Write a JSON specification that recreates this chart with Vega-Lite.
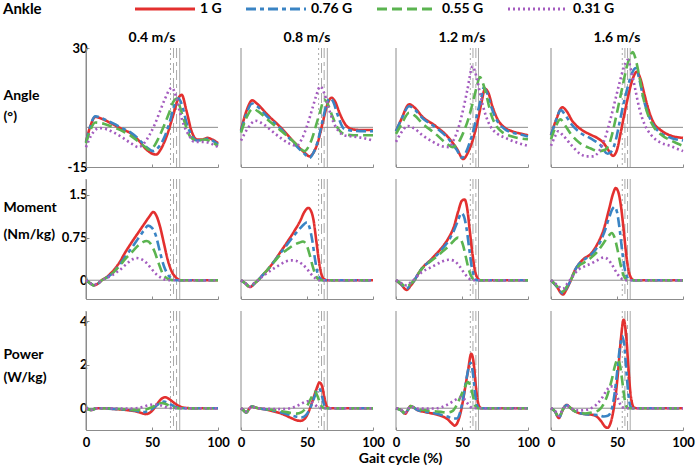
{
"$schema":"https://vega.github.io/schema/vega-lite/v6.json",
"padding":{"left":3,"top":2,"right":5,"bottom":0},
"datasets":{"d":[
{"m":"T","v":"0.4 m/s","g":"1 G","x":71},{"m":"T","v":"0.4 m/s","g":"0.76 G","x":68.6},{"m":"T","v":"0.4 m/s","g":"0.55 G","x":66.3},{"m":"T","v":"0.4 m/s","g":"0.31 G","x":64},
{"m":"T","v":"0.8 m/s","g":"1 G","x":65.4},{"m":"T","v":"0.8 m/s","g":"0.76 G","x":63},{"m":"T","v":"0.8 m/s","g":"0.55 G","x":61},{"m":"T","v":"0.8 m/s","g":"0.31 G","x":58.8},
{"m":"T","v":"1.2 m/s","g":"1 G","x":62.5},{"m":"T","v":"1.2 m/s","g":"0.76 G","x":60.5},{"m":"T","v":"1.2 m/s","g":"0.55 G","x":58.3},{"m":"T","v":"1.2 m/s","g":"0.31 G","x":56.3},
{"m":"T","v":"1.6 m/s","g":"1 G","x":60},{"m":"T","v":"1.6 m/s","g":"0.76 G","x":58},{"m":"T","v":"1.6 m/s","g":"0.55 G","x":56},{"m":"T","v":"1.6 m/s","g":"0.31 G","x":54},

{"m":"A","v":"0.4 m/s","g":"1 G","x":0,"y":-5.5},{"m":"A","v":"0.4 m/s","g":"1 G","x":3,"y":0},{"m":"A","v":"0.4 m/s","g":"1 G","x":7,"y":3.9},{"m":"A","v":"0.4 m/s","g":"1 G","x":14,"y":2.8},{"m":"A","v":"0.4 m/s","g":"1 G","x":21,"y":1},{"m":"A","v":"0.4 m/s","g":"1 G","x":28,"y":-0.8},{"m":"A","v":"0.4 m/s","g":"1 G","x":34,"y":-2.3},{"m":"A","v":"0.4 m/s","g":"1 G","x":40,"y":-5},{"m":"A","v":"0.4 m/s","g":"1 G","x":46,"y":-8.5},{"m":"A","v":"0.4 m/s","g":"1 G","x":53,"y":-10.3},{"m":"A","v":"0.4 m/s","g":"1 G","x":57,"y":-8},{"m":"A","v":"0.4 m/s","g":"1 G","x":61,"y":-3.5},{"m":"A","v":"0.4 m/s","g":"1 G","x":66,"y":4.5},{"m":"A","v":"0.4 m/s","g":"1 G","x":70,"y":11},{"m":"A","v":"0.4 m/s","g":"1 G","x":72.5,"y":12.3},{"m":"A","v":"0.4 m/s","g":"1 G","x":76,"y":6.5},{"m":"A","v":"0.4 m/s","g":"1 G","x":80,"y":-1.5},{"m":"A","v":"0.4 m/s","g":"1 G","x":84,"y":-4.6},{"m":"A","v":"0.4 m/s","g":"1 G","x":88,"y":-4.6},{"m":"A","v":"0.4 m/s","g":"1 G","x":92,"y":-4},{"m":"A","v":"0.4 m/s","g":"1 G","x":96,"y":-4.7},{"m":"A","v":"0.4 m/s","g":"1 G","x":100,"y":-6},
{"m":"A","v":"0.4 m/s","g":"0.76 G","x":0,"y":-5.8},{"m":"A","v":"0.4 m/s","g":"0.76 G","x":3,"y":0},{"m":"A","v":"0.4 m/s","g":"0.76 G","x":7,"y":4.2},{"m":"A","v":"0.4 m/s","g":"0.76 G","x":14,"y":3},{"m":"A","v":"0.4 m/s","g":"0.76 G","x":21,"y":1.4},{"m":"A","v":"0.4 m/s","g":"0.76 G","x":28,"y":-0.5},{"m":"A","v":"0.4 m/s","g":"0.76 G","x":34,"y":-2},{"m":"A","v":"0.4 m/s","g":"0.76 G","x":40,"y":-4.5},{"m":"A","v":"0.4 m/s","g":"0.76 G","x":46,"y":-7.5},{"m":"A","v":"0.4 m/s","g":"0.76 G","x":51,"y":-9},{"m":"A","v":"0.4 m/s","g":"0.76 G","x":55,"y":-7.5},{"m":"A","v":"0.4 m/s","g":"0.76 G","x":60,"y":-3},{"m":"A","v":"0.4 m/s","g":"0.76 G","x":64,"y":3},{"m":"A","v":"0.4 m/s","g":"0.76 G","x":67,"y":8.5},{"m":"A","v":"0.4 m/s","g":"0.76 G","x":70,"y":11},{"m":"A","v":"0.4 m/s","g":"0.76 G","x":73,"y":8},{"m":"A","v":"0.4 m/s","g":"0.76 G","x":76,"y":2},{"m":"A","v":"0.4 m/s","g":"0.76 G","x":80,"y":-3},{"m":"A","v":"0.4 m/s","g":"0.76 G","x":84,"y":-5},{"m":"A","v":"0.4 m/s","g":"0.76 G","x":88,"y":-4.8},{"m":"A","v":"0.4 m/s","g":"0.76 G","x":92,"y":-4.3},{"m":"A","v":"0.4 m/s","g":"0.76 G","x":96,"y":-5},{"m":"A","v":"0.4 m/s","g":"0.76 G","x":100,"y":-6.5},
{"m":"A","v":"0.4 m/s","g":"0.55 G","x":0,"y":-6},{"m":"A","v":"0.4 m/s","g":"0.55 G","x":3,"y":-1.5},{"m":"A","v":"0.4 m/s","g":"0.55 G","x":7,"y":1.8},{"m":"A","v":"0.4 m/s","g":"0.55 G","x":14,"y":1.3},{"m":"A","v":"0.4 m/s","g":"0.55 G","x":21,"y":0},{"m":"A","v":"0.4 m/s","g":"0.55 G","x":28,"y":-1.5},{"m":"A","v":"0.4 m/s","g":"0.55 G","x":34,"y":-3.2},{"m":"A","v":"0.4 m/s","g":"0.55 G","x":40,"y":-5.5},{"m":"A","v":"0.4 m/s","g":"0.55 G","x":45,"y":-7.5},{"m":"A","v":"0.4 m/s","g":"0.55 G","x":48,"y":-8.5},{"m":"A","v":"0.4 m/s","g":"0.55 G","x":51,"y":-7.5},{"m":"A","v":"0.4 m/s","g":"0.55 G","x":55,"y":-4},{"m":"A","v":"0.4 m/s","g":"0.55 G","x":59,"y":0.5},{"m":"A","v":"0.4 m/s","g":"0.55 G","x":63,"y":5.5},{"m":"A","v":"0.4 m/s","g":"0.55 G","x":66,"y":9.5},{"m":"A","v":"0.4 m/s","g":"0.55 G","x":68.5,"y":10.8},{"m":"A","v":"0.4 m/s","g":"0.55 G","x":71,"y":8},{"m":"A","v":"0.4 m/s","g":"0.55 G","x":74,"y":3},{"m":"A","v":"0.4 m/s","g":"0.55 G","x":79,"y":-3.5},{"m":"A","v":"0.4 m/s","g":"0.55 G","x":84,"y":-5},{"m":"A","v":"0.4 m/s","g":"0.55 G","x":90,"y":-4.6},{"m":"A","v":"0.4 m/s","g":"0.55 G","x":95,"y":-5.5},{"m":"A","v":"0.4 m/s","g":"0.55 G","x":100,"y":-7},
{"m":"A","v":"0.4 m/s","g":"0.31 G","x":0,"y":-7.5},{"m":"A","v":"0.4 m/s","g":"0.31 G","x":4,"y":-3},{"m":"A","v":"0.4 m/s","g":"0.31 G","x":10,"y":-0.3},{"m":"A","v":"0.4 m/s","g":"0.31 G","x":16,"y":-0.8},{"m":"A","v":"0.4 m/s","g":"0.31 G","x":22,"y":-2.2},{"m":"A","v":"0.4 m/s","g":"0.31 G","x":28,"y":-4},{"m":"A","v":"0.4 m/s","g":"0.31 G","x":34,"y":-6},{"m":"A","v":"0.4 m/s","g":"0.31 G","x":40,"y":-7.5},{"m":"A","v":"0.4 m/s","g":"0.31 G","x":44,"y":-6},{"m":"A","v":"0.4 m/s","g":"0.31 G","x":48,"y":-3},{"m":"A","v":"0.4 m/s","g":"0.31 G","x":52,"y":1},{"m":"A","v":"0.4 m/s","g":"0.31 G","x":56,"y":6},{"m":"A","v":"0.4 m/s","g":"0.31 G","x":60,"y":11},{"m":"A","v":"0.4 m/s","g":"0.31 G","x":65,"y":15},{"m":"A","v":"0.4 m/s","g":"0.31 G","x":68,"y":12},{"m":"A","v":"0.4 m/s","g":"0.31 G","x":71,"y":6},{"m":"A","v":"0.4 m/s","g":"0.31 G","x":74,"y":1},{"m":"A","v":"0.4 m/s","g":"0.31 G","x":78,"y":-3},{"m":"A","v":"0.4 m/s","g":"0.31 G","x":82,"y":-5.5},{"m":"A","v":"0.4 m/s","g":"0.31 G","x":88,"y":-5.5},{"m":"A","v":"0.4 m/s","g":"0.31 G","x":94,"y":-6},{"m":"A","v":"0.4 m/s","g":"0.31 G","x":100,"y":-7.5},

{"m":"A","v":"0.8 m/s","g":"1 G","x":0,"y":-1},{"m":"A","v":"0.8 m/s","g":"1 G","x":4,"y":6},{"m":"A","v":"0.8 m/s","g":"1 G","x":8.5,"y":10.2},{"m":"A","v":"0.8 m/s","g":"1 G","x":12,"y":9},{"m":"A","v":"0.8 m/s","g":"1 G","x":20,"y":4.8},{"m":"A","v":"0.8 m/s","g":"1 G","x":30,"y":0},{"m":"A","v":"0.8 m/s","g":"1 G","x":40,"y":-5.5},{"m":"A","v":"0.8 m/s","g":"1 G","x":48,"y":-9.5},{"m":"A","v":"0.8 m/s","g":"1 G","x":52,"y":-11},{"m":"A","v":"0.8 m/s","g":"1 G","x":55,"y":-9.5},{"m":"A","v":"0.8 m/s","g":"1 G","x":58,"y":-6},{"m":"A","v":"0.8 m/s","g":"1 G","x":62,"y":2},{"m":"A","v":"0.8 m/s","g":"1 G","x":65,"y":8},{"m":"A","v":"0.8 m/s","g":"1 G","x":68.5,"y":11.2},{"m":"A","v":"0.8 m/s","g":"1 G","x":71,"y":10},{"m":"A","v":"0.8 m/s","g":"1 G","x":75,"y":5},{"m":"A","v":"0.8 m/s","g":"1 G","x":80,"y":0.5},{"m":"A","v":"0.8 m/s","g":"1 G","x":85,"y":-0.8},{"m":"A","v":"0.8 m/s","g":"1 G","x":90,"y":-1},{"m":"A","v":"0.8 m/s","g":"1 G","x":100,"y":-1},
{"m":"A","v":"0.8 m/s","g":"0.76 G","x":0,"y":-1.5},{"m":"A","v":"0.8 m/s","g":"0.76 G","x":4,"y":5},{"m":"A","v":"0.8 m/s","g":"0.76 G","x":8.5,"y":9},{"m":"A","v":"0.8 m/s","g":"0.76 G","x":12,"y":8},{"m":"A","v":"0.8 m/s","g":"0.76 G","x":20,"y":4},{"m":"A","v":"0.8 m/s","g":"0.76 G","x":30,"y":-0.5},{"m":"A","v":"0.8 m/s","g":"0.76 G","x":40,"y":-6},{"m":"A","v":"0.8 m/s","g":"0.76 G","x":48,"y":-10},{"m":"A","v":"0.8 m/s","g":"0.76 G","x":52,"y":-11.5},{"m":"A","v":"0.8 m/s","g":"0.76 G","x":55,"y":-9.5},{"m":"A","v":"0.8 m/s","g":"0.76 G","x":58,"y":-5.5},{"m":"A","v":"0.8 m/s","g":"0.76 G","x":62,"y":3},{"m":"A","v":"0.8 m/s","g":"0.76 G","x":65,"y":9},{"m":"A","v":"0.8 m/s","g":"0.76 G","x":67.5,"y":11},{"m":"A","v":"0.8 m/s","g":"0.76 G","x":70,"y":9.5},{"m":"A","v":"0.8 m/s","g":"0.76 G","x":73,"y":5},{"m":"A","v":"0.8 m/s","g":"0.76 G","x":78,"y":-0.5},{"m":"A","v":"0.8 m/s","g":"0.76 G","x":85,"y":-1.3},{"m":"A","v":"0.8 m/s","g":"0.76 G","x":100,"y":-1.5},
{"m":"A","v":"0.8 m/s","g":"0.55 G","x":0,"y":-2},{"m":"A","v":"0.8 m/s","g":"0.55 G","x":4,"y":3.5},{"m":"A","v":"0.8 m/s","g":"0.55 G","x":9,"y":7},{"m":"A","v":"0.8 m/s","g":"0.55 G","x":13,"y":6},{"m":"A","v":"0.8 m/s","g":"0.55 G","x":20,"y":3},{"m":"A","v":"0.8 m/s","g":"0.55 G","x":30,"y":-1.2},{"m":"A","v":"0.8 m/s","g":"0.55 G","x":40,"y":-5.5},{"m":"A","v":"0.8 m/s","g":"0.55 G","x":45,"y":-8},{"m":"A","v":"0.8 m/s","g":"0.55 G","x":48,"y":-9},{"m":"A","v":"0.8 m/s","g":"0.55 G","x":51,"y":-7.5},{"m":"A","v":"0.8 m/s","g":"0.55 G","x":54,"y":-4},{"m":"A","v":"0.8 m/s","g":"0.55 G","x":57,"y":1},{"m":"A","v":"0.8 m/s","g":"0.55 G","x":60,"y":6},{"m":"A","v":"0.8 m/s","g":"0.55 G","x":63,"y":10.5},{"m":"A","v":"0.8 m/s","g":"0.55 G","x":66,"y":8.5},{"m":"A","v":"0.8 m/s","g":"0.55 G","x":69,"y":4.5},{"m":"A","v":"0.8 m/s","g":"0.55 G","x":73,"y":0},{"m":"A","v":"0.8 m/s","g":"0.55 G","x":78,"y":-2.5},{"m":"A","v":"0.8 m/s","g":"0.55 G","x":85,"y":-3},{"m":"A","v":"0.8 m/s","g":"0.55 G","x":100,"y":-3},
{"m":"A","v":"0.8 m/s","g":"0.31 G","x":0,"y":-5},{"m":"A","v":"0.8 m/s","g":"0.31 G","x":5,"y":-0.5},{"m":"A","v":"0.8 m/s","g":"0.31 G","x":11,"y":2.5},{"m":"A","v":"0.8 m/s","g":"0.31 G","x":16,"y":1.5},{"m":"A","v":"0.8 m/s","g":"0.31 G","x":22,"y":-0.8},{"m":"A","v":"0.8 m/s","g":"0.31 G","x":30,"y":-4},{"m":"A","v":"0.8 m/s","g":"0.31 G","x":36,"y":-6},{"m":"A","v":"0.8 m/s","g":"0.31 G","x":42,"y":-7},{"m":"A","v":"0.8 m/s","g":"0.31 G","x":46,"y":-4.5},{"m":"A","v":"0.8 m/s","g":"0.31 G","x":50,"y":0.5},{"m":"A","v":"0.8 m/s","g":"0.31 G","x":54,"y":7},{"m":"A","v":"0.8 m/s","g":"0.31 G","x":57,"y":12},{"m":"A","v":"0.8 m/s","g":"0.31 G","x":60,"y":15.5},{"m":"A","v":"0.8 m/s","g":"0.31 G","x":63,"y":13},{"m":"A","v":"0.8 m/s","g":"0.31 G","x":66,"y":8},{"m":"A","v":"0.8 m/s","g":"0.31 G","x":70,"y":2},{"m":"A","v":"0.8 m/s","g":"0.31 G","x":74,"y":-1.5},{"m":"A","v":"0.8 m/s","g":"0.31 G","x":78,"y":-3},{"m":"A","v":"0.8 m/s","g":"0.31 G","x":85,"y":-3.5},{"m":"A","v":"0.8 m/s","g":"0.31 G","x":92,"y":-4},{"m":"A","v":"0.8 m/s","g":"0.31 G","x":100,"y":-5},

{"m":"A","v":"1.2 m/s","g":"1 G","x":0,"y":-1.5},{"m":"A","v":"1.2 m/s","g":"1 G","x":4,"y":3},{"m":"A","v":"1.2 m/s","g":"1 G","x":10,"y":8.7},{"m":"A","v":"1.2 m/s","g":"1 G","x":14,"y":7.5},{"m":"A","v":"1.2 m/s","g":"1 G","x":20,"y":4},{"m":"A","v":"1.2 m/s","g":"1 G","x":30,"y":0.5},{"m":"A","v":"1.2 m/s","g":"1 G","x":40,"y":-4},{"m":"A","v":"1.2 m/s","g":"1 G","x":46,"y":-8},{"m":"A","v":"1.2 m/s","g":"1 G","x":51,"y":-12},{"m":"A","v":"1.2 m/s","g":"1 G","x":54,"y":-10},{"m":"A","v":"1.2 m/s","g":"1 G","x":57,"y":-6.5},{"m":"A","v":"1.2 m/s","g":"1 G","x":60,"y":-1.5},{"m":"A","v":"1.2 m/s","g":"1 G","x":63,"y":5},{"m":"A","v":"1.2 m/s","g":"1 G","x":65,"y":10},{"m":"A","v":"1.2 m/s","g":"1 G","x":67.5,"y":14.6},{"m":"A","v":"1.2 m/s","g":"1 G","x":70,"y":13},{"m":"A","v":"1.2 m/s","g":"1 G","x":73,"y":8},{"m":"A","v":"1.2 m/s","g":"1 G","x":77,"y":3},{"m":"A","v":"1.2 m/s","g":"1 G","x":82,"y":0},{"m":"A","v":"1.2 m/s","g":"1 G","x":88,"y":-1.5},{"m":"A","v":"1.2 m/s","g":"1 G","x":94,"y":-2.3},{"m":"A","v":"1.2 m/s","g":"1 G","x":100,"y":-3},
{"m":"A","v":"1.2 m/s","g":"0.76 G","x":0,"y":-1.5},{"m":"A","v":"1.2 m/s","g":"0.76 G","x":4,"y":3},{"m":"A","v":"1.2 m/s","g":"0.76 G","x":10,"y":8},{"m":"A","v":"1.2 m/s","g":"0.76 G","x":14,"y":6.8},{"m":"A","v":"1.2 m/s","g":"0.76 G","x":20,"y":3.5},{"m":"A","v":"1.2 m/s","g":"0.76 G","x":30,"y":0},{"m":"A","v":"1.2 m/s","g":"0.76 G","x":40,"y":-4.5},{"m":"A","v":"1.2 m/s","g":"0.76 G","x":46,"y":-8.5},{"m":"A","v":"1.2 m/s","g":"0.76 G","x":50,"y":-11.5},{"m":"A","v":"1.2 m/s","g":"0.76 G","x":53,"y":-9.5},{"m":"A","v":"1.2 m/s","g":"0.76 G","x":56,"y":-5.5},{"m":"A","v":"1.2 m/s","g":"0.76 G","x":59,"y":-0.5},{"m":"A","v":"1.2 m/s","g":"0.76 G","x":62,"y":6},{"m":"A","v":"1.2 m/s","g":"0.76 G","x":64.5,"y":11},{"m":"A","v":"1.2 m/s","g":"0.76 G","x":66.5,"y":15},{"m":"A","v":"1.2 m/s","g":"0.76 G","x":69,"y":13},{"m":"A","v":"1.2 m/s","g":"0.76 G","x":72,"y":8},{"m":"A","v":"1.2 m/s","g":"0.76 G","x":76,"y":3},{"m":"A","v":"1.2 m/s","g":"0.76 G","x":82,"y":-0.5},{"m":"A","v":"1.2 m/s","g":"0.76 G","x":88,"y":-2},{"m":"A","v":"1.2 m/s","g":"0.76 G","x":94,"y":-2.7},{"m":"A","v":"1.2 m/s","g":"0.76 G","x":100,"y":-3.5},
{"m":"A","v":"1.2 m/s","g":"0.55 G","x":0,"y":-2.5},{"m":"A","v":"1.2 m/s","g":"0.55 G","x":4,"y":1},{"m":"A","v":"1.2 m/s","g":"0.55 G","x":10,"y":5.5},{"m":"A","v":"1.2 m/s","g":"0.55 G","x":14,"y":4.5},{"m":"A","v":"1.2 m/s","g":"0.55 G","x":20,"y":1.5},{"m":"A","v":"1.2 m/s","g":"0.55 G","x":30,"y":-2.5},{"m":"A","v":"1.2 m/s","g":"0.55 G","x":38,"y":-6},{"m":"A","v":"1.2 m/s","g":"0.55 G","x":43,"y":-7.5},{"m":"A","v":"1.2 m/s","g":"0.55 G","x":47,"y":-6},{"m":"A","v":"1.2 m/s","g":"0.55 G","x":51,"y":-2},{"m":"A","v":"1.2 m/s","g":"0.55 G","x":55,"y":3.5},{"m":"A","v":"1.2 m/s","g":"0.55 G","x":58,"y":9},{"m":"A","v":"1.2 m/s","g":"0.55 G","x":61,"y":15},{"m":"A","v":"1.2 m/s","g":"0.55 G","x":63.5,"y":19},{"m":"A","v":"1.2 m/s","g":"0.55 G","x":66,"y":16.5},{"m":"A","v":"1.2 m/s","g":"0.55 G","x":69,"y":11},{"m":"A","v":"1.2 m/s","g":"0.55 G","x":72,"y":5},{"m":"A","v":"1.2 m/s","g":"0.55 G","x":76,"y":0.5},{"m":"A","v":"1.2 m/s","g":"0.55 G","x":81,"y":-2},{"m":"A","v":"1.2 m/s","g":"0.55 G","x":88,"y":-3.5},{"m":"A","v":"1.2 m/s","g":"0.55 G","x":100,"y":-4.5},
{"m":"A","v":"1.2 m/s","g":"0.31 G","x":0,"y":-5.5},{"m":"A","v":"1.2 m/s","g":"0.31 G","x":4,"y":-2},{"m":"A","v":"1.2 m/s","g":"0.31 G","x":9,"y":0.5},{"m":"A","v":"1.2 m/s","g":"0.31 G","x":14,"y":-0.5},{"m":"A","v":"1.2 m/s","g":"0.31 G","x":20,"y":-3},{"m":"A","v":"1.2 m/s","g":"0.31 G","x":28,"y":-5.5},{"m":"A","v":"1.2 m/s","g":"0.31 G","x":34,"y":-7},{"m":"A","v":"1.2 m/s","g":"0.31 G","x":40,"y":-7.5},{"m":"A","v":"1.2 m/s","g":"0.31 G","x":44,"y":-4.5},{"m":"A","v":"1.2 m/s","g":"0.31 G","x":48,"y":1},{"m":"A","v":"1.2 m/s","g":"0.31 G","x":51,"y":7},{"m":"A","v":"1.2 m/s","g":"0.31 G","x":54,"y":14},{"m":"A","v":"1.2 m/s","g":"0.31 G","x":58,"y":23},{"m":"A","v":"1.2 m/s","g":"0.31 G","x":61,"y":19},{"m":"A","v":"1.2 m/s","g":"0.31 G","x":64,"y":12},{"m":"A","v":"1.2 m/s","g":"0.31 G","x":68,"y":4.5},{"m":"A","v":"1.2 m/s","g":"0.31 G","x":72,"y":0},{"m":"A","v":"1.2 m/s","g":"0.31 G","x":77,"y":-2.5},{"m":"A","v":"1.2 m/s","g":"0.31 G","x":83,"y":-4},{"m":"A","v":"1.2 m/s","g":"0.31 G","x":90,"y":-5.5},{"m":"A","v":"1.2 m/s","g":"0.31 G","x":100,"y":-7},

{"m":"A","v":"1.6 m/s","g":"1 G","x":0,"y":-3},{"m":"A","v":"1.6 m/s","g":"1 G","x":4,"y":3},{"m":"A","v":"1.6 m/s","g":"1 G","x":8.5,"y":7.6},{"m":"A","v":"1.6 m/s","g":"1 G","x":12,"y":6},{"m":"A","v":"1.6 m/s","g":"1 G","x":16,"y":2.5},{"m":"A","v":"1.6 m/s","g":"1 G","x":20,"y":0.3},{"m":"A","v":"1.6 m/s","g":"1 G","x":25,"y":-1.5},{"m":"A","v":"1.6 m/s","g":"1 G","x":30,"y":-2.8},{"m":"A","v":"1.6 m/s","g":"1 G","x":35,"y":-4},{"m":"A","v":"1.6 m/s","g":"1 G","x":40,"y":-6},{"m":"A","v":"1.6 m/s","g":"1 G","x":44,"y":-9},{"m":"A","v":"1.6 m/s","g":"1 G","x":47,"y":-10.8},{"m":"A","v":"1.6 m/s","g":"1 G","x":50,"y":-8.5},{"m":"A","v":"1.6 m/s","g":"1 G","x":53,"y":-1.5},{"m":"A","v":"1.6 m/s","g":"1 G","x":56,"y":6},{"m":"A","v":"1.6 m/s","g":"1 G","x":59,"y":13},{"m":"A","v":"1.6 m/s","g":"1 G","x":62,"y":18.5},{"m":"A","v":"1.6 m/s","g":"1 G","x":65,"y":21},{"m":"A","v":"1.6 m/s","g":"1 G","x":68,"y":18},{"m":"A","v":"1.6 m/s","g":"1 G","x":71,"y":12},{"m":"A","v":"1.6 m/s","g":"1 G","x":74,"y":6.5},{"m":"A","v":"1.6 m/s","g":"1 G","x":78,"y":1.5},{"m":"A","v":"1.6 m/s","g":"1 G","x":83,"y":-1},{"m":"A","v":"1.6 m/s","g":"1 G","x":90,"y":-3},{"m":"A","v":"1.6 m/s","g":"1 G","x":100,"y":-4},
{"m":"A","v":"1.6 m/s","g":"0.76 G","x":0,"y":-3},{"m":"A","v":"1.6 m/s","g":"0.76 G","x":3,"y":1.5},{"m":"A","v":"1.6 m/s","g":"0.76 G","x":7.5,"y":6.5},{"m":"A","v":"1.6 m/s","g":"0.76 G","x":11,"y":4.5},{"m":"A","v":"1.6 m/s","g":"0.76 G","x":15,"y":1.5},{"m":"A","v":"1.6 m/s","g":"0.76 G","x":22,"y":-2},{"m":"A","v":"1.6 m/s","g":"0.76 G","x":30,"y":-4.2},{"m":"A","v":"1.6 m/s","g":"0.76 G","x":37,"y":-6.5},{"m":"A","v":"1.6 m/s","g":"0.76 G","x":43,"y":-10},{"m":"A","v":"1.6 m/s","g":"0.76 G","x":46,"y":-9},{"m":"A","v":"1.6 m/s","g":"0.76 G","x":49,"y":-5},{"m":"A","v":"1.6 m/s","g":"0.76 G","x":52,"y":2},{"m":"A","v":"1.6 m/s","g":"0.76 G","x":55,"y":9},{"m":"A","v":"1.6 m/s","g":"0.76 G","x":58,"y":15},{"m":"A","v":"1.6 m/s","g":"0.76 G","x":61,"y":20},{"m":"A","v":"1.6 m/s","g":"0.76 G","x":64,"y":22.4},{"m":"A","v":"1.6 m/s","g":"0.76 G","x":67,"y":18},{"m":"A","v":"1.6 m/s","g":"0.76 G","x":70,"y":11},{"m":"A","v":"1.6 m/s","g":"0.76 G","x":74,"y":4.5},{"m":"A","v":"1.6 m/s","g":"0.76 G","x":78,"y":0.5},{"m":"A","v":"1.6 m/s","g":"0.76 G","x":84,"y":-2.5},{"m":"A","v":"1.6 m/s","g":"0.76 G","x":91,"y":-4},{"m":"A","v":"1.6 m/s","g":"0.76 G","x":100,"y":-5},
{"m":"A","v":"1.6 m/s","g":"0.55 G","x":0,"y":-4.5},{"m":"A","v":"1.6 m/s","g":"0.55 G","x":3,"y":-0.5},{"m":"A","v":"1.6 m/s","g":"0.55 G","x":7,"y":3},{"m":"A","v":"1.6 m/s","g":"0.55 G","x":11,"y":0.5},{"m":"A","v":"1.6 m/s","g":"0.55 G","x":15,"y":-2.5},{"m":"A","v":"1.6 m/s","g":"0.55 G","x":22,"y":-6},{"m":"A","v":"1.6 m/s","g":"0.55 G","x":30,"y":-8},{"m":"A","v":"1.6 m/s","g":"0.55 G","x":36,"y":-9},{"m":"A","v":"1.6 m/s","g":"0.55 G","x":41,"y":-8.5},{"m":"A","v":"1.6 m/s","g":"0.55 G","x":45,"y":-5},{"m":"A","v":"1.6 m/s","g":"0.55 G","x":48,"y":1},{"m":"A","v":"1.6 m/s","g":"0.55 G","x":51,"y":8},{"m":"A","v":"1.6 m/s","g":"0.55 G","x":54,"y":15},{"m":"A","v":"1.6 m/s","g":"0.55 G","x":57,"y":22},{"m":"A","v":"1.6 m/s","g":"0.55 G","x":60,"y":27},{"m":"A","v":"1.6 m/s","g":"0.55 G","x":62,"y":28.5},{"m":"A","v":"1.6 m/s","g":"0.55 G","x":64,"y":26},{"m":"A","v":"1.6 m/s","g":"0.55 G","x":67,"y":19},{"m":"A","v":"1.6 m/s","g":"0.55 G","x":70,"y":11},{"m":"A","v":"1.6 m/s","g":"0.55 G","x":74,"y":4},{"m":"A","v":"1.6 m/s","g":"0.55 G","x":78,"y":0},{"m":"A","v":"1.6 m/s","g":"0.55 G","x":84,"y":-3},{"m":"A","v":"1.6 m/s","g":"0.55 G","x":91,"y":-5},{"m":"A","v":"1.6 m/s","g":"0.55 G","x":100,"y":-7},
{"m":"A","v":"1.6 m/s","g":"0.31 G","x":0,"y":-7},{"m":"A","v":"1.6 m/s","g":"0.31 G","x":3,"y":-3.5},{"m":"A","v":"1.6 m/s","g":"0.31 G","x":5.5,"y":-1.5},{"m":"A","v":"1.6 m/s","g":"0.31 G","x":9,"y":-3},{"m":"A","v":"1.6 m/s","g":"0.31 G","x":15,"y":-6.5},{"m":"A","v":"1.6 m/s","g":"0.31 G","x":22,"y":-10},{"m":"A","v":"1.6 m/s","g":"0.31 G","x":27,"y":-11},{"m":"A","v":"1.6 m/s","g":"0.31 G","x":32,"y":-11},{"m":"A","v":"1.6 m/s","g":"0.31 G","x":37,"y":-8.5},{"m":"A","v":"1.6 m/s","g":"0.31 G","x":41,"y":-4},{"m":"A","v":"1.6 m/s","g":"0.31 G","x":45,"y":3},{"m":"A","v":"1.6 m/s","g":"0.31 G","x":49,"y":11},{"m":"A","v":"1.6 m/s","g":"0.31 G","x":52,"y":17},{"m":"A","v":"1.6 m/s","g":"0.31 G","x":55,"y":22.5},{"m":"A","v":"1.6 m/s","g":"0.31 G","x":58,"y":25.5},{"m":"A","v":"1.6 m/s","g":"0.31 G","x":61,"y":21},{"m":"A","v":"1.6 m/s","g":"0.31 G","x":64,"y":14},{"m":"A","v":"1.6 m/s","g":"0.31 G","x":67,"y":7},{"m":"A","v":"1.6 m/s","g":"0.31 G","x":71,"y":1},{"m":"A","v":"1.6 m/s","g":"0.31 G","x":76,"y":-3},{"m":"A","v":"1.6 m/s","g":"0.31 G","x":82,"y":-5.5},{"m":"A","v":"1.6 m/s","g":"0.31 G","x":90,"y":-7},{"m":"A","v":"1.6 m/s","g":"0.31 G","x":100,"y":-9},

{"m":"M","v":"0.4 m/s","g":"1 G","x":0,"y":0},{"m":"M","v":"0.4 m/s","g":"1 G","x":3,"y":-0.05},{"m":"M","v":"0.4 m/s","g":"1 G","x":6,"y":-0.09},{"m":"M","v":"0.4 m/s","g":"1 G","x":9,"y":-0.06},{"m":"M","v":"0.4 m/s","g":"1 G","x":12,"y":0},{"m":"M","v":"0.4 m/s","g":"1 G","x":16,"y":0.06},{"m":"M","v":"0.4 m/s","g":"1 G","x":20,"y":0.15},{"m":"M","v":"0.4 m/s","g":"1 G","x":25,"y":0.3},{"m":"M","v":"0.4 m/s","g":"1 G","x":30,"y":0.5},{"m":"M","v":"0.4 m/s","g":"1 G","x":35,"y":0.68},{"m":"M","v":"0.4 m/s","g":"1 G","x":40,"y":0.85},{"m":"M","v":"0.4 m/s","g":"1 G","x":45,"y":1.02},{"m":"M","v":"0.4 m/s","g":"1 G","x":48,"y":1.12},{"m":"M","v":"0.4 m/s","g":"1 G","x":51,"y":1.2},{"m":"M","v":"0.4 m/s","g":"1 G","x":53,"y":1.15},{"m":"M","v":"0.4 m/s","g":"1 G","x":56,"y":0.95},{"m":"M","v":"0.4 m/s","g":"1 G","x":59,"y":0.65},{"m":"M","v":"0.4 m/s","g":"1 G","x":62,"y":0.35},{"m":"M","v":"0.4 m/s","g":"1 G","x":65,"y":0.15},{"m":"M","v":"0.4 m/s","g":"1 G","x":68,"y":0.05},{"m":"M","v":"0.4 m/s","g":"1 G","x":72,"y":0},{"m":"M","v":"0.4 m/s","g":"1 G","x":100,"y":0},
{"m":"M","v":"0.4 m/s","g":"0.76 G","x":0,"y":0},{"m":"M","v":"0.4 m/s","g":"0.76 G","x":3,"y":-0.05},{"m":"M","v":"0.4 m/s","g":"0.76 G","x":6,"y":-0.09},{"m":"M","v":"0.4 m/s","g":"0.76 G","x":9,"y":-0.06},{"m":"M","v":"0.4 m/s","g":"0.76 G","x":12,"y":0},{"m":"M","v":"0.4 m/s","g":"0.76 G","x":16,"y":0.05},{"m":"M","v":"0.4 m/s","g":"0.76 G","x":20,"y":0.12},{"m":"M","v":"0.4 m/s","g":"0.76 G","x":25,"y":0.26},{"m":"M","v":"0.4 m/s","g":"0.76 G","x":30,"y":0.42},{"m":"M","v":"0.4 m/s","g":"0.76 G","x":35,"y":0.58},{"m":"M","v":"0.4 m/s","g":"0.76 G","x":40,"y":0.75},{"m":"M","v":"0.4 m/s","g":"0.76 G","x":44,"y":0.88},{"m":"M","v":"0.4 m/s","g":"0.76 G","x":47,"y":0.96},{"m":"M","v":"0.4 m/s","g":"0.76 G","x":50,"y":0.92},{"m":"M","v":"0.4 m/s","g":"0.76 G","x":53,"y":0.78},{"m":"M","v":"0.4 m/s","g":"0.76 G","x":56,"y":0.5},{"m":"M","v":"0.4 m/s","g":"0.76 G","x":59,"y":0.25},{"m":"M","v":"0.4 m/s","g":"0.76 G","x":62,"y":0.1},{"m":"M","v":"0.4 m/s","g":"0.76 G","x":65,"y":0.03},{"m":"M","v":"0.4 m/s","g":"0.76 G","x":68,"y":0},{"m":"M","v":"0.4 m/s","g":"0.76 G","x":100,"y":0},
{"m":"M","v":"0.4 m/s","g":"0.55 G","x":0,"y":0},{"m":"M","v":"0.4 m/s","g":"0.55 G","x":3,"y":-0.05},{"m":"M","v":"0.4 m/s","g":"0.55 G","x":6,"y":-0.09},{"m":"M","v":"0.4 m/s","g":"0.55 G","x":9,"y":-0.06},{"m":"M","v":"0.4 m/s","g":"0.55 G","x":12,"y":0},{"m":"M","v":"0.4 m/s","g":"0.55 G","x":16,"y":0.05},{"m":"M","v":"0.4 m/s","g":"0.55 G","x":20,"y":0.12},{"m":"M","v":"0.4 m/s","g":"0.55 G","x":25,"y":0.24},{"m":"M","v":"0.4 m/s","g":"0.55 G","x":30,"y":0.38},{"m":"M","v":"0.4 m/s","g":"0.55 G","x":35,"y":0.5},{"m":"M","v":"0.4 m/s","g":"0.55 G","x":40,"y":0.62},{"m":"M","v":"0.4 m/s","g":"0.55 G","x":43,"y":0.67},{"m":"M","v":"0.4 m/s","g":"0.55 G","x":46,"y":0.69},{"m":"M","v":"0.4 m/s","g":"0.55 G","x":49,"y":0.64},{"m":"M","v":"0.4 m/s","g":"0.55 G","x":52,"y":0.5},{"m":"M","v":"0.4 m/s","g":"0.55 G","x":55,"y":0.3},{"m":"M","v":"0.4 m/s","g":"0.55 G","x":58,"y":0.12},{"m":"M","v":"0.4 m/s","g":"0.55 G","x":61,"y":0.04},{"m":"M","v":"0.4 m/s","g":"0.55 G","x":64,"y":0.01},{"m":"M","v":"0.4 m/s","g":"0.55 G","x":67,"y":0},{"m":"M","v":"0.4 m/s","g":"0.55 G","x":100,"y":0},
{"m":"M","v":"0.4 m/s","g":"0.31 G","x":0,"y":0},{"m":"M","v":"0.4 m/s","g":"0.31 G","x":3,"y":-0.05},{"m":"M","v":"0.4 m/s","g":"0.31 G","x":6,"y":-0.08},{"m":"M","v":"0.4 m/s","g":"0.31 G","x":9,"y":-0.05},{"m":"M","v":"0.4 m/s","g":"0.31 G","x":12,"y":0},{"m":"M","v":"0.4 m/s","g":"0.31 G","x":16,"y":0.04},{"m":"M","v":"0.4 m/s","g":"0.31 G","x":20,"y":0.09},{"m":"M","v":"0.4 m/s","g":"0.31 G","x":25,"y":0.17},{"m":"M","v":"0.4 m/s","g":"0.31 G","x":30,"y":0.27},{"m":"M","v":"0.4 m/s","g":"0.31 G","x":34,"y":0.35},{"m":"M","v":"0.4 m/s","g":"0.31 G","x":38,"y":0.39},{"m":"M","v":"0.4 m/s","g":"0.31 G","x":42,"y":0.37},{"m":"M","v":"0.4 m/s","g":"0.31 G","x":46,"y":0.3},{"m":"M","v":"0.4 m/s","g":"0.31 G","x":50,"y":0.19},{"m":"M","v":"0.4 m/s","g":"0.31 G","x":54,"y":0.09},{"m":"M","v":"0.4 m/s","g":"0.31 G","x":58,"y":0.03},{"m":"M","v":"0.4 m/s","g":"0.31 G","x":62,"y":0},{"m":"M","v":"0.4 m/s","g":"0.31 G","x":100,"y":0},

{"m":"M","v":"0.8 m/s","g":"1 G","x":0,"y":0},{"m":"M","v":"0.8 m/s","g":"1 G","x":3,"y":-0.05},{"m":"M","v":"0.8 m/s","g":"1 G","x":7,"y":-0.12},{"m":"M","v":"0.8 m/s","g":"1 G","x":10,"y":-0.06},{"m":"M","v":"0.8 m/s","g":"1 G","x":13,"y":0},{"m":"M","v":"0.8 m/s","g":"1 G","x":16,"y":0.08},{"m":"M","v":"0.8 m/s","g":"1 G","x":20,"y":0.18},{"m":"M","v":"0.8 m/s","g":"1 G","x":25,"y":0.33},{"m":"M","v":"0.8 m/s","g":"1 G","x":30,"y":0.5},{"m":"M","v":"0.8 m/s","g":"1 G","x":35,"y":0.67},{"m":"M","v":"0.8 m/s","g":"1 G","x":40,"y":0.85},{"m":"M","v":"0.8 m/s","g":"1 G","x":45,"y":1.05},{"m":"M","v":"0.8 m/s","g":"1 G","x":48,"y":1.2},{"m":"M","v":"0.8 m/s","g":"1 G","x":51,"y":1.27},{"m":"M","v":"0.8 m/s","g":"1 G","x":53,"y":1.22},{"m":"M","v":"0.8 m/s","g":"1 G","x":55,"y":1.05},{"m":"M","v":"0.8 m/s","g":"1 G","x":57,"y":0.7},{"m":"M","v":"0.8 m/s","g":"1 G","x":59,"y":0.35},{"m":"M","v":"0.8 m/s","g":"1 G","x":61,"y":0.1},{"m":"M","v":"0.8 m/s","g":"1 G","x":63,"y":0.02},{"m":"M","v":"0.8 m/s","g":"1 G","x":65,"y":0},{"m":"M","v":"0.8 m/s","g":"1 G","x":100,"y":0},
{"m":"M","v":"0.8 m/s","g":"0.76 G","x":0,"y":0},{"m":"M","v":"0.8 m/s","g":"0.76 G","x":3,"y":-0.05},{"m":"M","v":"0.8 m/s","g":"0.76 G","x":7,"y":-0.12},{"m":"M","v":"0.8 m/s","g":"0.76 G","x":10,"y":-0.06},{"m":"M","v":"0.8 m/s","g":"0.76 G","x":13,"y":0},{"m":"M","v":"0.8 m/s","g":"0.76 G","x":16,"y":0.08},{"m":"M","v":"0.8 m/s","g":"0.76 G","x":20,"y":0.18},{"m":"M","v":"0.8 m/s","g":"0.76 G","x":25,"y":0.33},{"m":"M","v":"0.8 m/s","g":"0.76 G","x":30,"y":0.48},{"m":"M","v":"0.8 m/s","g":"0.76 G","x":35,"y":0.63},{"m":"M","v":"0.8 m/s","g":"0.76 G","x":40,"y":0.78},{"m":"M","v":"0.8 m/s","g":"0.76 G","x":45,"y":0.92},{"m":"M","v":"0.8 m/s","g":"0.76 G","x":48,"y":0.99},{"m":"M","v":"0.8 m/s","g":"0.76 G","x":50,"y":1.02},{"m":"M","v":"0.8 m/s","g":"0.76 G","x":52,"y":0.92},{"m":"M","v":"0.8 m/s","g":"0.76 G","x":54,"y":0.7},{"m":"M","v":"0.8 m/s","g":"0.76 G","x":56,"y":0.38},{"m":"M","v":"0.8 m/s","g":"0.76 G","x":58,"y":0.12},{"m":"M","v":"0.8 m/s","g":"0.76 G","x":60,"y":0.03},{"m":"M","v":"0.8 m/s","g":"0.76 G","x":62,"y":0},{"m":"M","v":"0.8 m/s","g":"0.76 G","x":100,"y":0},
{"m":"M","v":"0.8 m/s","g":"0.55 G","x":0,"y":0},{"m":"M","v":"0.8 m/s","g":"0.55 G","x":3,"y":-0.05},{"m":"M","v":"0.8 m/s","g":"0.55 G","x":7,"y":-0.12},{"m":"M","v":"0.8 m/s","g":"0.55 G","x":10,"y":-0.06},{"m":"M","v":"0.8 m/s","g":"0.55 G","x":13,"y":0},{"m":"M","v":"0.8 m/s","g":"0.55 G","x":16,"y":0.08},{"m":"M","v":"0.8 m/s","g":"0.55 G","x":20,"y":0.18},{"m":"M","v":"0.8 m/s","g":"0.55 G","x":25,"y":0.32},{"m":"M","v":"0.8 m/s","g":"0.55 G","x":30,"y":0.45},{"m":"M","v":"0.8 m/s","g":"0.55 G","x":35,"y":0.54},{"m":"M","v":"0.8 m/s","g":"0.55 G","x":40,"y":0.62},{"m":"M","v":"0.8 m/s","g":"0.55 G","x":44,"y":0.66},{"m":"M","v":"0.8 m/s","g":"0.55 G","x":47,"y":0.68},{"m":"M","v":"0.8 m/s","g":"0.55 G","x":50,"y":0.6},{"m":"M","v":"0.8 m/s","g":"0.55 G","x":52,"y":0.45},{"m":"M","v":"0.8 m/s","g":"0.55 G","x":54,"y":0.27},{"m":"M","v":"0.8 m/s","g":"0.55 G","x":56,"y":0.12},{"m":"M","v":"0.8 m/s","g":"0.55 G","x":58,"y":0.03},{"m":"M","v":"0.8 m/s","g":"0.55 G","x":60,"y":0},{"m":"M","v":"0.8 m/s","g":"0.55 G","x":100,"y":0},
{"m":"M","v":"0.8 m/s","g":"0.31 G","x":0,"y":0},{"m":"M","v":"0.8 m/s","g":"0.31 G","x":3,"y":-0.05},{"m":"M","v":"0.8 m/s","g":"0.31 G","x":7,"y":-0.11},{"m":"M","v":"0.8 m/s","g":"0.31 G","x":10,"y":-0.05},{"m":"M","v":"0.8 m/s","g":"0.31 G","x":13,"y":0},{"m":"M","v":"0.8 m/s","g":"0.31 G","x":16,"y":0.06},{"m":"M","v":"0.8 m/s","g":"0.31 G","x":20,"y":0.13},{"m":"M","v":"0.8 m/s","g":"0.31 G","x":25,"y":0.21},{"m":"M","v":"0.8 m/s","g":"0.31 G","x":30,"y":0.28},{"m":"M","v":"0.8 m/s","g":"0.31 G","x":34,"y":0.33},{"m":"M","v":"0.8 m/s","g":"0.31 G","x":38,"y":0.35},{"m":"M","v":"0.8 m/s","g":"0.31 G","x":42,"y":0.34},{"m":"M","v":"0.8 m/s","g":"0.31 G","x":46,"y":0.29},{"m":"M","v":"0.8 m/s","g":"0.31 G","x":50,"y":0.2},{"m":"M","v":"0.8 m/s","g":"0.31 G","x":53,"y":0.11},{"m":"M","v":"0.8 m/s","g":"0.31 G","x":56,"y":0.04},{"m":"M","v":"0.8 m/s","g":"0.31 G","x":59,"y":0},{"m":"M","v":"0.8 m/s","g":"0.31 G","x":100,"y":0},

{"m":"M","v":"1.2 m/s","g":"1 G","x":0,"y":0},{"m":"M","v":"1.2 m/s","g":"1 G","x":4,"y":-0.08},{"m":"M","v":"1.2 m/s","g":"1 G","x":8,"y":-0.17},{"m":"M","v":"1.2 m/s","g":"1 G","x":11,"y":-0.1},{"m":"M","v":"1.2 m/s","g":"1 G","x":14,"y":0},{"m":"M","v":"1.2 m/s","g":"1 G","x":17,"y":0.12},{"m":"M","v":"1.2 m/s","g":"1 G","x":20,"y":0.22},{"m":"M","v":"1.2 m/s","g":"1 G","x":25,"y":0.33},{"m":"M","v":"1.2 m/s","g":"1 G","x":30,"y":0.45},{"m":"M","v":"1.2 m/s","g":"1 G","x":35,"y":0.58},{"m":"M","v":"1.2 m/s","g":"1 G","x":40,"y":0.75},{"m":"M","v":"1.2 m/s","g":"1 G","x":44,"y":0.95},{"m":"M","v":"1.2 m/s","g":"1 G","x":47,"y":1.2},{"m":"M","v":"1.2 m/s","g":"1 G","x":50,"y":1.4},{"m":"M","v":"1.2 m/s","g":"1 G","x":52,"y":1.42},{"m":"M","v":"1.2 m/s","g":"1 G","x":54,"y":1.25},{"m":"M","v":"1.2 m/s","g":"1 G","x":56,"y":0.85},{"m":"M","v":"1.2 m/s","g":"1 G","x":58,"y":0.45},{"m":"M","v":"1.2 m/s","g":"1 G","x":60,"y":0.15},{"m":"M","v":"1.2 m/s","g":"1 G","x":62,"y":0.03},{"m":"M","v":"1.2 m/s","g":"1 G","x":64,"y":0},{"m":"M","v":"1.2 m/s","g":"1 G","x":100,"y":0},
{"m":"M","v":"1.2 m/s","g":"0.76 G","x":0,"y":0},{"m":"M","v":"1.2 m/s","g":"0.76 G","x":4,"y":-0.07},{"m":"M","v":"1.2 m/s","g":"0.76 G","x":8,"y":-0.15},{"m":"M","v":"1.2 m/s","g":"0.76 G","x":11,"y":-0.08},{"m":"M","v":"1.2 m/s","g":"0.76 G","x":14,"y":0},{"m":"M","v":"1.2 m/s","g":"0.76 G","x":17,"y":0.12},{"m":"M","v":"1.2 m/s","g":"0.76 G","x":20,"y":0.22},{"m":"M","v":"1.2 m/s","g":"0.76 G","x":25,"y":0.32},{"m":"M","v":"1.2 m/s","g":"0.76 G","x":30,"y":0.42},{"m":"M","v":"1.2 m/s","g":"0.76 G","x":35,"y":0.55},{"m":"M","v":"1.2 m/s","g":"0.76 G","x":40,"y":0.7},{"m":"M","v":"1.2 m/s","g":"0.76 G","x":44,"y":0.88},{"m":"M","v":"1.2 m/s","g":"0.76 G","x":47,"y":1.05},{"m":"M","v":"1.2 m/s","g":"0.76 G","x":49.5,"y":1.18},{"m":"M","v":"1.2 m/s","g":"0.76 G","x":51.5,"y":1.12},{"m":"M","v":"1.2 m/s","g":"0.76 G","x":53.5,"y":0.9},{"m":"M","v":"1.2 m/s","g":"0.76 G","x":55.5,"y":0.55},{"m":"M","v":"1.2 m/s","g":"0.76 G","x":57.5,"y":0.22},{"m":"M","v":"1.2 m/s","g":"0.76 G","x":59.5,"y":0.05},{"m":"M","v":"1.2 m/s","g":"0.76 G","x":61,"y":0},{"m":"M","v":"1.2 m/s","g":"0.76 G","x":100,"y":0},
{"m":"M","v":"1.2 m/s","g":"0.55 G","x":0,"y":0},{"m":"M","v":"1.2 m/s","g":"0.55 G","x":4,"y":-0.06},{"m":"M","v":"1.2 m/s","g":"0.55 G","x":8,"y":-0.12},{"m":"M","v":"1.2 m/s","g":"0.55 G","x":11,"y":-0.06},{"m":"M","v":"1.2 m/s","g":"0.55 G","x":14,"y":0},{"m":"M","v":"1.2 m/s","g":"0.55 G","x":17,"y":0.12},{"m":"M","v":"1.2 m/s","g":"0.55 G","x":20,"y":0.21},{"m":"M","v":"1.2 m/s","g":"0.55 G","x":25,"y":0.31},{"m":"M","v":"1.2 m/s","g":"0.55 G","x":30,"y":0.4},{"m":"M","v":"1.2 m/s","g":"0.55 G","x":35,"y":0.5},{"m":"M","v":"1.2 m/s","g":"0.55 G","x":40,"y":0.6},{"m":"M","v":"1.2 m/s","g":"0.55 G","x":44,"y":0.7},{"m":"M","v":"1.2 m/s","g":"0.55 G","x":47,"y":0.75},{"m":"M","v":"1.2 m/s","g":"0.55 G","x":49,"y":0.72},{"m":"M","v":"1.2 m/s","g":"0.55 G","x":51,"y":0.6},{"m":"M","v":"1.2 m/s","g":"0.55 G","x":53,"y":0.4},{"m":"M","v":"1.2 m/s","g":"0.55 G","x":55,"y":0.2},{"m":"M","v":"1.2 m/s","g":"0.55 G","x":57,"y":0.07},{"m":"M","v":"1.2 m/s","g":"0.55 G","x":59,"y":0.01},{"m":"M","v":"1.2 m/s","g":"0.55 G","x":60,"y":0},{"m":"M","v":"1.2 m/s","g":"0.55 G","x":100,"y":0},
{"m":"M","v":"1.2 m/s","g":"0.31 G","x":0,"y":0},{"m":"M","v":"1.2 m/s","g":"0.31 G","x":4,"y":-0.05},{"m":"M","v":"1.2 m/s","g":"0.31 G","x":8,"y":-0.09},{"m":"M","v":"1.2 m/s","g":"0.31 G","x":11,"y":-0.04},{"m":"M","v":"1.2 m/s","g":"0.31 G","x":14,"y":0.02},{"m":"M","v":"1.2 m/s","g":"0.31 G","x":17,"y":0.09},{"m":"M","v":"1.2 m/s","g":"0.31 G","x":20,"y":0.15},{"m":"M","v":"1.2 m/s","g":"0.31 G","x":25,"y":0.21},{"m":"M","v":"1.2 m/s","g":"0.31 G","x":30,"y":0.27},{"m":"M","v":"1.2 m/s","g":"0.31 G","x":35,"y":0.33},{"m":"M","v":"1.2 m/s","g":"0.31 G","x":40,"y":0.36},{"m":"M","v":"1.2 m/s","g":"0.31 G","x":44,"y":0.34},{"m":"M","v":"1.2 m/s","g":"0.31 G","x":48,"y":0.25},{"m":"M","v":"1.2 m/s","g":"0.31 G","x":51,"y":0.15},{"m":"M","v":"1.2 m/s","g":"0.31 G","x":54,"y":0.06},{"m":"M","v":"1.2 m/s","g":"0.31 G","x":56,"y":0.02},{"m":"M","v":"1.2 m/s","g":"0.31 G","x":58,"y":0},{"m":"M","v":"1.2 m/s","g":"0.31 G","x":100,"y":0},

{"m":"M","v":"1.6 m/s","g":"1 G","x":0,"y":0},{"m":"M","v":"1.6 m/s","g":"1 G","x":4,"y":-0.1},{"m":"M","v":"1.6 m/s","g":"1 G","x":9,"y":-0.25},{"m":"M","v":"1.6 m/s","g":"1 G","x":12,"y":-0.15},{"m":"M","v":"1.6 m/s","g":"1 G","x":15,"y":0},{"m":"M","v":"1.6 m/s","g":"1 G","x":18,"y":0.17},{"m":"M","v":"1.6 m/s","g":"1 G","x":21,"y":0.28},{"m":"M","v":"1.6 m/s","g":"1 G","x":25,"y":0.38},{"m":"M","v":"1.6 m/s","g":"1 G","x":30,"y":0.46},{"m":"M","v":"1.6 m/s","g":"1 G","x":35,"y":0.63},{"m":"M","v":"1.6 m/s","g":"1 G","x":40,"y":0.9},{"m":"M","v":"1.6 m/s","g":"1 G","x":44,"y":1.25},{"m":"M","v":"1.6 m/s","g":"1 G","x":47,"y":1.52},{"m":"M","v":"1.6 m/s","g":"1 G","x":49,"y":1.62},{"m":"M","v":"1.6 m/s","g":"1 G","x":51,"y":1.55},{"m":"M","v":"1.6 m/s","g":"1 G","x":53,"y":1.3},{"m":"M","v":"1.6 m/s","g":"1 G","x":55,"y":0.9},{"m":"M","v":"1.6 m/s","g":"1 G","x":57,"y":0.45},{"m":"M","v":"1.6 m/s","g":"1 G","x":59,"y":0.15},{"m":"M","v":"1.6 m/s","g":"1 G","x":61,"y":0.03},{"m":"M","v":"1.6 m/s","g":"1 G","x":63,"y":0},{"m":"M","v":"1.6 m/s","g":"1 G","x":100,"y":0},
{"m":"M","v":"1.6 m/s","g":"0.76 G","x":0,"y":0},{"m":"M","v":"1.6 m/s","g":"0.76 G","x":4,"y":-0.1},{"m":"M","v":"1.6 m/s","g":"0.76 G","x":9,"y":-0.23},{"m":"M","v":"1.6 m/s","g":"0.76 G","x":12,"y":-0.13},{"m":"M","v":"1.6 m/s","g":"0.76 G","x":15,"y":0},{"m":"M","v":"1.6 m/s","g":"0.76 G","x":18,"y":0.17},{"m":"M","v":"1.6 m/s","g":"0.76 G","x":21,"y":0.28},{"m":"M","v":"1.6 m/s","g":"0.76 G","x":25,"y":0.36},{"m":"M","v":"1.6 m/s","g":"0.76 G","x":30,"y":0.44},{"m":"M","v":"1.6 m/s","g":"0.76 G","x":35,"y":0.58},{"m":"M","v":"1.6 m/s","g":"0.76 G","x":40,"y":0.82},{"m":"M","v":"1.6 m/s","g":"0.76 G","x":44,"y":1.1},{"m":"M","v":"1.6 m/s","g":"0.76 G","x":46.5,"y":1.25},{"m":"M","v":"1.6 m/s","g":"0.76 G","x":48,"y":1.29},{"m":"M","v":"1.6 m/s","g":"0.76 G","x":50,"y":1.2},{"m":"M","v":"1.6 m/s","g":"0.76 G","x":52,"y":0.9},{"m":"M","v":"1.6 m/s","g":"0.76 G","x":54,"y":0.5},{"m":"M","v":"1.6 m/s","g":"0.76 G","x":56,"y":0.18},{"m":"M","v":"1.6 m/s","g":"0.76 G","x":58,"y":0.04},{"m":"M","v":"1.6 m/s","g":"0.76 G","x":60,"y":0},{"m":"M","v":"1.6 m/s","g":"0.76 G","x":100,"y":0},
{"m":"M","v":"1.6 m/s","g":"0.55 G","x":0,"y":0},{"m":"M","v":"1.6 m/s","g":"0.55 G","x":4,"y":-0.09},{"m":"M","v":"1.6 m/s","g":"0.55 G","x":9,"y":-0.2},{"m":"M","v":"1.6 m/s","g":"0.55 G","x":12,"y":-0.11},{"m":"M","v":"1.6 m/s","g":"0.55 G","x":15,"y":0},{"m":"M","v":"1.6 m/s","g":"0.55 G","x":18,"y":0.15},{"m":"M","v":"1.6 m/s","g":"0.55 G","x":21,"y":0.25},{"m":"M","v":"1.6 m/s","g":"0.55 G","x":25,"y":0.31},{"m":"M","v":"1.6 m/s","g":"0.55 G","x":30,"y":0.39},{"m":"M","v":"1.6 m/s","g":"0.55 G","x":35,"y":0.5},{"m":"M","v":"1.6 m/s","g":"0.55 G","x":40,"y":0.66},{"m":"M","v":"1.6 m/s","g":"0.55 G","x":44,"y":0.79},{"m":"M","v":"1.6 m/s","g":"0.55 G","x":46,"y":0.83},{"m":"M","v":"1.6 m/s","g":"0.55 G","x":48,"y":0.76},{"m":"M","v":"1.6 m/s","g":"0.55 G","x":50,"y":0.58},{"m":"M","v":"1.6 m/s","g":"0.55 G","x":52,"y":0.35},{"m":"M","v":"1.6 m/s","g":"0.55 G","x":54,"y":0.15},{"m":"M","v":"1.6 m/s","g":"0.55 G","x":56,"y":0.04},{"m":"M","v":"1.6 m/s","g":"0.55 G","x":58,"y":0},{"m":"M","v":"1.6 m/s","g":"0.55 G","x":100,"y":0},
{"m":"M","v":"1.6 m/s","g":"0.31 G","x":0,"y":0},{"m":"M","v":"1.6 m/s","g":"0.31 G","x":4,"y":-0.07},{"m":"M","v":"1.6 m/s","g":"0.31 G","x":9,"y":-0.15},{"m":"M","v":"1.6 m/s","g":"0.31 G","x":12,"y":-0.07},{"m":"M","v":"1.6 m/s","g":"0.31 G","x":15,"y":0.02},{"m":"M","v":"1.6 m/s","g":"0.31 G","x":18,"y":0.12},{"m":"M","v":"1.6 m/s","g":"0.31 G","x":21,"y":0.19},{"m":"M","v":"1.6 m/s","g":"0.31 G","x":25,"y":0.24},{"m":"M","v":"1.6 m/s","g":"0.31 G","x":30,"y":0.29},{"m":"M","v":"1.6 m/s","g":"0.31 G","x":35,"y":0.35},{"m":"M","v":"1.6 m/s","g":"0.31 G","x":40,"y":0.4},{"m":"M","v":"1.6 m/s","g":"0.31 G","x":43,"y":0.37},{"m":"M","v":"1.6 m/s","g":"0.31 G","x":46,"y":0.28},{"m":"M","v":"1.6 m/s","g":"0.31 G","x":49,"y":0.16},{"m":"M","v":"1.6 m/s","g":"0.31 G","x":52,"y":0.06},{"m":"M","v":"1.6 m/s","g":"0.31 G","x":54,"y":0.02},{"m":"M","v":"1.6 m/s","g":"0.31 G","x":56,"y":0},{"m":"M","v":"1.6 m/s","g":"0.31 G","x":100,"y":0},

{"m":"P","v":"0.4 m/s","g":"1 G","x":0,"y":0},{"m":"P","v":"0.4 m/s","g":"1 G","x":2,"y":-0.05},{"m":"P","v":"0.4 m/s","g":"1 G","x":4,"y":-0.08},{"m":"P","v":"0.4 m/s","g":"1 G","x":7,"y":-0.02},{"m":"P","v":"0.4 m/s","g":"1 G","x":10,"y":0},{"m":"P","v":"0.4 m/s","g":"1 G","x":15,"y":0},{"m":"P","v":"0.4 m/s","g":"1 G","x":20,"y":-0.03},{"m":"P","v":"0.4 m/s","g":"1 G","x":30,"y":-0.08},{"m":"P","v":"0.4 m/s","g":"1 G","x":38,"y":-0.15},{"m":"P","v":"0.4 m/s","g":"1 G","x":42,"y":-0.22},{"m":"P","v":"0.4 m/s","g":"1 G","x":45,"y":-0.27},{"m":"P","v":"0.4 m/s","g":"1 G","x":48,"y":-0.22},{"m":"P","v":"0.4 m/s","g":"1 G","x":51,"y":-0.05},{"m":"P","v":"0.4 m/s","g":"1 G","x":54,"y":0.2},{"m":"P","v":"0.4 m/s","g":"1 G","x":57,"y":0.42},{"m":"P","v":"0.4 m/s","g":"1 G","x":60,"y":0.5},{"m":"P","v":"0.4 m/s","g":"1 G","x":63,"y":0.42},{"m":"P","v":"0.4 m/s","g":"1 G","x":66,"y":0.28},{"m":"P","v":"0.4 m/s","g":"1 G","x":69,"y":0.15},{"m":"P","v":"0.4 m/s","g":"1 G","x":72,"y":0.06},{"m":"P","v":"0.4 m/s","g":"1 G","x":76,"y":0.01},{"m":"P","v":"0.4 m/s","g":"1 G","x":80,"y":0},{"m":"P","v":"0.4 m/s","g":"1 G","x":100,"y":0},
{"m":"P","v":"0.4 m/s","g":"0.76 G","x":0,"y":0},{"m":"P","v":"0.4 m/s","g":"0.76 G","x":2,"y":-0.05},{"m":"P","v":"0.4 m/s","g":"0.76 G","x":4,"y":-0.08},{"m":"P","v":"0.4 m/s","g":"0.76 G","x":7,"y":-0.02},{"m":"P","v":"0.4 m/s","g":"0.76 G","x":10,"y":0},{"m":"P","v":"0.4 m/s","g":"0.76 G","x":20,"y":-0.03},{"m":"P","v":"0.4 m/s","g":"0.76 G","x":30,"y":-0.07},{"m":"P","v":"0.4 m/s","g":"0.76 G","x":38,"y":-0.12},{"m":"P","v":"0.4 m/s","g":"0.76 G","x":43,"y":-0.18},{"m":"P","v":"0.4 m/s","g":"0.76 G","x":46,"y":-0.15},{"m":"P","v":"0.4 m/s","g":"0.76 G","x":50,"y":-0.03},{"m":"P","v":"0.4 m/s","g":"0.76 G","x":54,"y":0.15},{"m":"P","v":"0.4 m/s","g":"0.76 G","x":57,"y":0.27},{"m":"P","v":"0.4 m/s","g":"0.76 G","x":59,"y":0.3},{"m":"P","v":"0.4 m/s","g":"0.76 G","x":62,"y":0.25},{"m":"P","v":"0.4 m/s","g":"0.76 G","x":65,"y":0.14},{"m":"P","v":"0.4 m/s","g":"0.76 G","x":68,"y":0.05},{"m":"P","v":"0.4 m/s","g":"0.76 G","x":71,"y":0},{"m":"P","v":"0.4 m/s","g":"0.76 G","x":100,"y":0},
{"m":"P","v":"0.4 m/s","g":"0.55 G","x":0,"y":0},{"m":"P","v":"0.4 m/s","g":"0.55 G","x":2,"y":-0.05},{"m":"P","v":"0.4 m/s","g":"0.55 G","x":4,"y":-0.08},{"m":"P","v":"0.4 m/s","g":"0.55 G","x":7,"y":-0.02},{"m":"P","v":"0.4 m/s","g":"0.55 G","x":10,"y":0},{"m":"P","v":"0.4 m/s","g":"0.55 G","x":20,"y":-0.02},{"m":"P","v":"0.4 m/s","g":"0.55 G","x":30,"y":-0.05},{"m":"P","v":"0.4 m/s","g":"0.55 G","x":38,"y":-0.08},{"m":"P","v":"0.4 m/s","g":"0.55 G","x":43,"y":-0.08},{"m":"P","v":"0.4 m/s","g":"0.55 G","x":47,"y":-0.03},{"m":"P","v":"0.4 m/s","g":"0.55 G","x":51,"y":0.08},{"m":"P","v":"0.4 m/s","g":"0.55 G","x":54,"y":0.18},{"m":"P","v":"0.4 m/s","g":"0.55 G","x":57,"y":0.24},{"m":"P","v":"0.4 m/s","g":"0.55 G","x":60,"y":0.2},{"m":"P","v":"0.4 m/s","g":"0.55 G","x":63,"y":0.12},{"m":"P","v":"0.4 m/s","g":"0.55 G","x":66,"y":0.04},{"m":"P","v":"0.4 m/s","g":"0.55 G","x":69,"y":0},{"m":"P","v":"0.4 m/s","g":"0.55 G","x":100,"y":0},
{"m":"P","v":"0.4 m/s","g":"0.31 G","x":0,"y":0},{"m":"P","v":"0.4 m/s","g":"0.31 G","x":2,"y":-0.04},{"m":"P","v":"0.4 m/s","g":"0.31 G","x":4,"y":-0.07},{"m":"P","v":"0.4 m/s","g":"0.31 G","x":7,"y":-0.02},{"m":"P","v":"0.4 m/s","g":"0.31 G","x":10,"y":0},{"m":"P","v":"0.4 m/s","g":"0.31 G","x":20,"y":-0.01},{"m":"P","v":"0.4 m/s","g":"0.31 G","x":30,"y":-0.02},{"m":"P","v":"0.4 m/s","g":"0.31 G","x":38,"y":0},{"m":"P","v":"0.4 m/s","g":"0.31 G","x":43,"y":0.06},{"m":"P","v":"0.4 m/s","g":"0.31 G","x":47,"y":0.13},{"m":"P","v":"0.4 m/s","g":"0.31 G","x":51,"y":0.17},{"m":"P","v":"0.4 m/s","g":"0.31 G","x":54,"y":0.16},{"m":"P","v":"0.4 m/s","g":"0.31 G","x":57,"y":0.12},{"m":"P","v":"0.4 m/s","g":"0.31 G","x":60,"y":0.06},{"m":"P","v":"0.4 m/s","g":"0.31 G","x":63,"y":0.02},{"m":"P","v":"0.4 m/s","g":"0.31 G","x":66,"y":0},{"m":"P","v":"0.4 m/s","g":"0.31 G","x":100,"y":0},

{"m":"P","v":"0.8 m/s","g":"1 G","x":0,"y":0},{"m":"P","v":"0.8 m/s","g":"1 G","x":2,"y":-0.1},{"m":"P","v":"0.8 m/s","g":"1 G","x":4,"y":-0.2},{"m":"P","v":"0.8 m/s","g":"1 G","x":6,"y":-0.05},{"m":"P","v":"0.8 m/s","g":"1 G","x":8,"y":0.08},{"m":"P","v":"0.8 m/s","g":"1 G","x":10,"y":0.05},{"m":"P","v":"0.8 m/s","g":"1 G","x":13,"y":0},{"m":"P","v":"0.8 m/s","g":"1 G","x":18,"y":-0.05},{"m":"P","v":"0.8 m/s","g":"1 G","x":25,"y":-0.15},{"m":"P","v":"0.8 m/s","g":"1 G","x":32,"y":-0.28},{"m":"P","v":"0.8 m/s","g":"1 G","x":38,"y":-0.45},{"m":"P","v":"0.8 m/s","g":"1 G","x":42,"y":-0.55},{"m":"P","v":"0.8 m/s","g":"1 G","x":45,"y":-0.58},{"m":"P","v":"0.8 m/s","g":"1 G","x":48,"y":-0.5},{"m":"P","v":"0.8 m/s","g":"1 G","x":51,"y":-0.2},{"m":"P","v":"0.8 m/s","g":"1 G","x":54,"y":0.3},{"m":"P","v":"0.8 m/s","g":"1 G","x":57,"y":0.85},{"m":"P","v":"0.8 m/s","g":"1 G","x":59.5,"y":1.18},{"m":"P","v":"0.8 m/s","g":"1 G","x":61.5,"y":1},{"m":"P","v":"0.8 m/s","g":"1 G","x":63,"y":0.55},{"m":"P","v":"0.8 m/s","g":"1 G","x":64.5,"y":0.15},{"m":"P","v":"0.8 m/s","g":"1 G","x":66,"y":0.02},{"m":"P","v":"0.8 m/s","g":"1 G","x":68,"y":0},{"m":"P","v":"0.8 m/s","g":"1 G","x":100,"y":0},
{"m":"P","v":"0.8 m/s","g":"0.76 G","x":0,"y":0},{"m":"P","v":"0.8 m/s","g":"0.76 G","x":2,"y":-0.1},{"m":"P","v":"0.8 m/s","g":"0.76 G","x":4,"y":-0.2},{"m":"P","v":"0.8 m/s","g":"0.76 G","x":6,"y":-0.05},{"m":"P","v":"0.8 m/s","g":"0.76 G","x":8,"y":0.08},{"m":"P","v":"0.8 m/s","g":"0.76 G","x":10,"y":0.05},{"m":"P","v":"0.8 m/s","g":"0.76 G","x":13,"y":0},{"m":"P","v":"0.8 m/s","g":"0.76 G","x":18,"y":-0.05},{"m":"P","v":"0.8 m/s","g":"0.76 G","x":25,"y":-0.12},{"m":"P","v":"0.8 m/s","g":"0.76 G","x":32,"y":-0.22},{"m":"P","v":"0.8 m/s","g":"0.76 G","x":38,"y":-0.33},{"m":"P","v":"0.8 m/s","g":"0.76 G","x":43,"y":-0.4},{"m":"P","v":"0.8 m/s","g":"0.76 G","x":46,"y":-0.42},{"m":"P","v":"0.8 m/s","g":"0.76 G","x":49,"y":-0.33},{"m":"P","v":"0.8 m/s","g":"0.76 G","x":52,"y":-0.05},{"m":"P","v":"0.8 m/s","g":"0.76 G","x":55,"y":0.4},{"m":"P","v":"0.8 m/s","g":"0.76 G","x":57.5,"y":0.8},{"m":"P","v":"0.8 m/s","g":"0.76 G","x":59,"y":0.92},{"m":"P","v":"0.8 m/s","g":"0.76 G","x":61,"y":0.65},{"m":"P","v":"0.8 m/s","g":"0.76 G","x":62.5,"y":0.25},{"m":"P","v":"0.8 m/s","g":"0.76 G","x":64,"y":0.04},{"m":"P","v":"0.8 m/s","g":"0.76 G","x":65,"y":0},{"m":"P","v":"0.8 m/s","g":"0.76 G","x":100,"y":0},
{"m":"P","v":"0.8 m/s","g":"0.55 G","x":0,"y":0},{"m":"P","v":"0.8 m/s","g":"0.55 G","x":2,"y":-0.1},{"m":"P","v":"0.8 m/s","g":"0.55 G","x":4,"y":-0.2},{"m":"P","v":"0.8 m/s","g":"0.55 G","x":6,"y":-0.05},{"m":"P","v":"0.8 m/s","g":"0.55 G","x":8,"y":0.08},{"m":"P","v":"0.8 m/s","g":"0.55 G","x":10,"y":0.05},{"m":"P","v":"0.8 m/s","g":"0.55 G","x":13,"y":0},{"m":"P","v":"0.8 m/s","g":"0.55 G","x":18,"y":-0.04},{"m":"P","v":"0.8 m/s","g":"0.55 G","x":25,"y":-0.08},{"m":"P","v":"0.8 m/s","g":"0.55 G","x":32,"y":-0.15},{"m":"P","v":"0.8 m/s","g":"0.55 G","x":38,"y":-0.22},{"m":"P","v":"0.8 m/s","g":"0.55 G","x":42,"y":-0.25},{"m":"P","v":"0.8 m/s","g":"0.55 G","x":46,"y":-0.18},{"m":"P","v":"0.8 m/s","g":"0.55 G","x":50,"y":0.1},{"m":"P","v":"0.8 m/s","g":"0.55 G","x":53,"y":0.45},{"m":"P","v":"0.8 m/s","g":"0.55 G","x":56,"y":0.75},{"m":"P","v":"0.8 m/s","g":"0.55 G","x":58,"y":0.55},{"m":"P","v":"0.8 m/s","g":"0.55 G","x":60,"y":0.2},{"m":"P","v":"0.8 m/s","g":"0.55 G","x":62,"y":0.03},{"m":"P","v":"0.8 m/s","g":"0.55 G","x":63,"y":0},{"m":"P","v":"0.8 m/s","g":"0.55 G","x":100,"y":0},
{"m":"P","v":"0.8 m/s","g":"0.31 G","x":0,"y":0},{"m":"P","v":"0.8 m/s","g":"0.31 G","x":2,"y":-0.08},{"m":"P","v":"0.8 m/s","g":"0.31 G","x":4,"y":-0.15},{"m":"P","v":"0.8 m/s","g":"0.31 G","x":6,"y":-0.04},{"m":"P","v":"0.8 m/s","g":"0.31 G","x":8,"y":0.06},{"m":"P","v":"0.8 m/s","g":"0.31 G","x":10,"y":0.04},{"m":"P","v":"0.8 m/s","g":"0.31 G","x":13,"y":0},{"m":"P","v":"0.8 m/s","g":"0.31 G","x":20,"y":-0.02},{"m":"P","v":"0.8 m/s","g":"0.31 G","x":28,"y":-0.04},{"m":"P","v":"0.8 m/s","g":"0.31 G","x":35,"y":-0.03},{"m":"P","v":"0.8 m/s","g":"0.31 G","x":40,"y":0.05},{"m":"P","v":"0.8 m/s","g":"0.31 G","x":45,"y":0.18},{"m":"P","v":"0.8 m/s","g":"0.31 G","x":49,"y":0.3},{"m":"P","v":"0.8 m/s","g":"0.31 G","x":52,"y":0.33},{"m":"P","v":"0.8 m/s","g":"0.31 G","x":55,"y":0.22},{"m":"P","v":"0.8 m/s","g":"0.31 G","x":58,"y":0.06},{"m":"P","v":"0.8 m/s","g":"0.31 G","x":60,"y":0.01},{"m":"P","v":"0.8 m/s","g":"0.31 G","x":61,"y":0},{"m":"P","v":"0.8 m/s","g":"0.31 G","x":100,"y":0},

{"m":"P","v":"1.2 m/s","g":"1 G","x":0,"y":0},{"m":"P","v":"1.2 m/s","g":"1 G","x":4,"y":-0.1},{"m":"P","v":"1.2 m/s","g":"1 G","x":7,"y":-0.25},{"m":"P","v":"1.2 m/s","g":"1 G","x":9,"y":-0.08},{"m":"P","v":"1.2 m/s","g":"1 G","x":11,"y":0.1},{"m":"P","v":"1.2 m/s","g":"1 G","x":13,"y":0.05},{"m":"P","v":"1.2 m/s","g":"1 G","x":16,"y":-0.08},{"m":"P","v":"1.2 m/s","g":"1 G","x":20,"y":-0.15},{"m":"P","v":"1.2 m/s","g":"1 G","x":28,"y":-0.25},{"m":"P","v":"1.2 m/s","g":"1 G","x":34,"y":-0.35},{"m":"P","v":"1.2 m/s","g":"1 G","x":39,"y":-0.5},{"m":"P","v":"1.2 m/s","g":"1 G","x":42,"y":-0.68},{"m":"P","v":"1.2 m/s","g":"1 G","x":44.5,"y":-0.8},{"m":"P","v":"1.2 m/s","g":"1 G","x":47,"y":-0.6},{"m":"P","v":"1.2 m/s","g":"1 G","x":49.5,"y":-0.05},{"m":"P","v":"1.2 m/s","g":"1 G","x":52,"y":0.8},{"m":"P","v":"1.2 m/s","g":"1 G","x":54.5,"y":1.7},{"m":"P","v":"1.2 m/s","g":"1 G","x":57,"y":2.5},{"m":"P","v":"1.2 m/s","g":"1 G","x":59,"y":2},{"m":"P","v":"1.2 m/s","g":"1 G","x":60.5,"y":1},{"m":"P","v":"1.2 m/s","g":"1 G","x":62,"y":0.3},{"m":"P","v":"1.2 m/s","g":"1 G","x":63.5,"y":0.05},{"m":"P","v":"1.2 m/s","g":"1 G","x":65,"y":0},{"m":"P","v":"1.2 m/s","g":"1 G","x":100,"y":0},
{"m":"P","v":"1.2 m/s","g":"0.76 G","x":0,"y":0},{"m":"P","v":"1.2 m/s","g":"0.76 G","x":4,"y":-0.1},{"m":"P","v":"1.2 m/s","g":"0.76 G","x":7,"y":-0.25},{"m":"P","v":"1.2 m/s","g":"0.76 G","x":9,"y":-0.08},{"m":"P","v":"1.2 m/s","g":"0.76 G","x":11,"y":0.1},{"m":"P","v":"1.2 m/s","g":"0.76 G","x":13,"y":0.05},{"m":"P","v":"1.2 m/s","g":"0.76 G","x":16,"y":-0.08},{"m":"P","v":"1.2 m/s","g":"0.76 G","x":20,"y":-0.14},{"m":"P","v":"1.2 m/s","g":"0.76 G","x":28,"y":-0.22},{"m":"P","v":"1.2 m/s","g":"0.76 G","x":34,"y":-0.3},{"m":"P","v":"1.2 m/s","g":"0.76 G","x":39,"y":-0.38},{"m":"P","v":"1.2 m/s","g":"0.76 G","x":43,"y":-0.47},{"m":"P","v":"1.2 m/s","g":"0.76 G","x":46,"y":-0.47},{"m":"P","v":"1.2 m/s","g":"0.76 G","x":48.5,"y":-0.2},{"m":"P","v":"1.2 m/s","g":"0.76 G","x":51,"y":0.5},{"m":"P","v":"1.2 m/s","g":"0.76 G","x":53.5,"y":1.4},{"m":"P","v":"1.2 m/s","g":"0.76 G","x":56.5,"y":2.08},{"m":"P","v":"1.2 m/s","g":"0.76 G","x":58.5,"y":1.5},{"m":"P","v":"1.2 m/s","g":"0.76 G","x":60,"y":0.6},{"m":"P","v":"1.2 m/s","g":"0.76 G","x":61.5,"y":0.12},{"m":"P","v":"1.2 m/s","g":"0.76 G","x":63,"y":0},{"m":"P","v":"1.2 m/s","g":"0.76 G","x":100,"y":0},
{"m":"P","v":"1.2 m/s","g":"0.55 G","x":0,"y":0},{"m":"P","v":"1.2 m/s","g":"0.55 G","x":4,"y":-0.1},{"m":"P","v":"1.2 m/s","g":"0.55 G","x":7,"y":-0.24},{"m":"P","v":"1.2 m/s","g":"0.55 G","x":9,"y":-0.08},{"m":"P","v":"1.2 m/s","g":"0.55 G","x":11,"y":0.1},{"m":"P","v":"1.2 m/s","g":"0.55 G","x":13,"y":0.05},{"m":"P","v":"1.2 m/s","g":"0.55 G","x":16,"y":-0.06},{"m":"P","v":"1.2 m/s","g":"0.55 G","x":20,"y":-0.08},{"m":"P","v":"1.2 m/s","g":"0.55 G","x":28,"y":-0.13},{"m":"P","v":"1.2 m/s","g":"0.55 G","x":34,"y":-0.17},{"m":"P","v":"1.2 m/s","g":"0.55 G","x":39,"y":-0.2},{"m":"P","v":"1.2 m/s","g":"0.55 G","x":43,"y":-0.12},{"m":"P","v":"1.2 m/s","g":"0.55 G","x":46,"y":0.15},{"m":"P","v":"1.2 m/s","g":"0.55 G","x":49,"y":0.55},{"m":"P","v":"1.2 m/s","g":"0.55 G","x":52,"y":0.95},{"m":"P","v":"1.2 m/s","g":"0.55 G","x":54.5,"y":1.2},{"m":"P","v":"1.2 m/s","g":"0.55 G","x":56.5,"y":1},{"m":"P","v":"1.2 m/s","g":"0.55 G","x":58.5,"y":0.5},{"m":"P","v":"1.2 m/s","g":"0.55 G","x":60,"y":0.12},{"m":"P","v":"1.2 m/s","g":"0.55 G","x":61.5,"y":0},{"m":"P","v":"1.2 m/s","g":"0.55 G","x":100,"y":0},
{"m":"P","v":"1.2 m/s","g":"0.31 G","x":0,"y":0},{"m":"P","v":"1.2 m/s","g":"0.31 G","x":4,"y":-0.08},{"m":"P","v":"1.2 m/s","g":"0.31 G","x":7,"y":-0.2},{"m":"P","v":"1.2 m/s","g":"0.31 G","x":9,"y":-0.06},{"m":"P","v":"1.2 m/s","g":"0.31 G","x":11,"y":0.08},{"m":"P","v":"1.2 m/s","g":"0.31 G","x":13,"y":0.04},{"m":"P","v":"1.2 m/s","g":"0.31 G","x":16,"y":-0.02},{"m":"P","v":"1.2 m/s","g":"0.31 G","x":22,"y":-0.02},{"m":"P","v":"1.2 m/s","g":"0.31 G","x":30,"y":-0.01},{"m":"P","v":"1.2 m/s","g":"0.31 G","x":35,"y":0.06},{"m":"P","v":"1.2 m/s","g":"0.31 G","x":40,"y":0.2},{"m":"P","v":"1.2 m/s","g":"0.31 G","x":44,"y":0.35},{"m":"P","v":"1.2 m/s","g":"0.31 G","x":47,"y":0.45},{"m":"P","v":"1.2 m/s","g":"0.31 G","x":49.5,"y":0.5},{"m":"P","v":"1.2 m/s","g":"0.31 G","x":52,"y":0.4},{"m":"P","v":"1.2 m/s","g":"0.31 G","x":54.5,"y":0.2},{"m":"P","v":"1.2 m/s","g":"0.31 G","x":56.5,"y":0.06},{"m":"P","v":"1.2 m/s","g":"0.31 G","x":58,"y":0},{"m":"P","v":"1.2 m/s","g":"0.31 G","x":100,"y":0},

{"m":"P","v":"1.6 m/s","g":"1 G","x":0,"y":0},{"m":"P","v":"1.6 m/s","g":"1 G","x":3,"y":-0.15},{"m":"P","v":"1.6 m/s","g":"1 G","x":6,"y":-0.45},{"m":"P","v":"1.6 m/s","g":"1 G","x":8,"y":-0.2},{"m":"P","v":"1.6 m/s","g":"1 G","x":10,"y":0.05},{"m":"P","v":"1.6 m/s","g":"1 G","x":12,"y":0.15},{"m":"P","v":"1.6 m/s","g":"1 G","x":14,"y":0.05},{"m":"P","v":"1.6 m/s","g":"1 G","x":17,"y":-0.1},{"m":"P","v":"1.6 m/s","g":"1 G","x":21,"y":-0.22},{"m":"P","v":"1.6 m/s","g":"1 G","x":26,"y":-0.27},{"m":"P","v":"1.6 m/s","g":"1 G","x":31,"y":-0.3},{"m":"P","v":"1.6 m/s","g":"1 G","x":35,"y":-0.4},{"m":"P","v":"1.6 m/s","g":"1 G","x":38,"y":-0.6},{"m":"P","v":"1.6 m/s","g":"1 G","x":41,"y":-0.85},{"m":"P","v":"1.6 m/s","g":"1 G","x":43,"y":-0.9},{"m":"P","v":"1.6 m/s","g":"1 G","x":45,"y":-0.7},{"m":"P","v":"1.6 m/s","g":"1 G","x":47,"y":-0.2},{"m":"P","v":"1.6 m/s","g":"1 G","x":49,"y":0.6},{"m":"P","v":"1.6 m/s","g":"1 G","x":51,"y":1.8},{"m":"P","v":"1.6 m/s","g":"1 G","x":53,"y":3.2},{"m":"P","v":"1.6 m/s","g":"1 G","x":55,"y":4.06},{"m":"P","v":"1.6 m/s","g":"1 G","x":57,"y":3.3},{"m":"P","v":"1.6 m/s","g":"1 G","x":58.5,"y":2},{"m":"P","v":"1.6 m/s","g":"1 G","x":60,"y":0.8},{"m":"P","v":"1.6 m/s","g":"1 G","x":61.5,"y":0.2},{"m":"P","v":"1.6 m/s","g":"1 G","x":63,"y":0.02},{"m":"P","v":"1.6 m/s","g":"1 G","x":65,"y":0},{"m":"P","v":"1.6 m/s","g":"1 G","x":100,"y":0},
{"m":"P","v":"1.6 m/s","g":"0.76 G","x":0,"y":0},{"m":"P","v":"1.6 m/s","g":"0.76 G","x":3,"y":-0.15},{"m":"P","v":"1.6 m/s","g":"0.76 G","x":6,"y":-0.45},{"m":"P","v":"1.6 m/s","g":"0.76 G","x":8,"y":-0.2},{"m":"P","v":"1.6 m/s","g":"0.76 G","x":10,"y":0.05},{"m":"P","v":"1.6 m/s","g":"0.76 G","x":12,"y":0.15},{"m":"P","v":"1.6 m/s","g":"0.76 G","x":14,"y":0.05},{"m":"P","v":"1.6 m/s","g":"0.76 G","x":17,"y":-0.1},{"m":"P","v":"1.6 m/s","g":"0.76 G","x":21,"y":-0.22},{"m":"P","v":"1.6 m/s","g":"0.76 G","x":26,"y":-0.27},{"m":"P","v":"1.6 m/s","g":"0.76 G","x":31,"y":-0.3},{"m":"P","v":"1.6 m/s","g":"0.76 G","x":36,"y":-0.32},{"m":"P","v":"1.6 m/s","g":"0.76 G","x":40,"y":-0.38},{"m":"P","v":"1.6 m/s","g":"0.76 G","x":43,"y":-0.35},{"m":"P","v":"1.6 m/s","g":"0.76 G","x":46,"y":-0.05},{"m":"P","v":"1.6 m/s","g":"0.76 G","x":48,"y":0.6},{"m":"P","v":"1.6 m/s","g":"0.76 G","x":50,"y":1.6},{"m":"P","v":"1.6 m/s","g":"0.76 G","x":52,"y":2.7},{"m":"P","v":"1.6 m/s","g":"0.76 G","x":54,"y":3.3},{"m":"P","v":"1.6 m/s","g":"0.76 G","x":55.5,"y":2.9},{"m":"P","v":"1.6 m/s","g":"0.76 G","x":57,"y":1.8},{"m":"P","v":"1.6 m/s","g":"0.76 G","x":58.5,"y":0.7},{"m":"P","v":"1.6 m/s","g":"0.76 G","x":60,"y":0.12},{"m":"P","v":"1.6 m/s","g":"0.76 G","x":61.5,"y":0},{"m":"P","v":"1.6 m/s","g":"0.76 G","x":100,"y":0},
{"m":"P","v":"1.6 m/s","g":"0.55 G","x":0,"y":0},{"m":"P","v":"1.6 m/s","g":"0.55 G","x":3,"y":-0.14},{"m":"P","v":"1.6 m/s","g":"0.55 G","x":6,"y":-0.42},{"m":"P","v":"1.6 m/s","g":"0.55 G","x":8,"y":-0.2},{"m":"P","v":"1.6 m/s","g":"0.55 G","x":10,"y":0.05},{"m":"P","v":"1.6 m/s","g":"0.55 G","x":12,"y":0.15},{"m":"P","v":"1.6 m/s","g":"0.55 G","x":14,"y":0.05},{"m":"P","v":"1.6 m/s","g":"0.55 G","x":17,"y":-0.1},{"m":"P","v":"1.6 m/s","g":"0.55 G","x":21,"y":-0.2},{"m":"P","v":"1.6 m/s","g":"0.55 G","x":26,"y":-0.24},{"m":"P","v":"1.6 m/s","g":"0.55 G","x":31,"y":-0.2},{"m":"P","v":"1.6 m/s","g":"0.55 G","x":36,"y":-0.1},{"m":"P","v":"1.6 m/s","g":"0.55 G","x":40,"y":0.2},{"m":"P","v":"1.6 m/s","g":"0.55 G","x":43,"y":0.65},{"m":"P","v":"1.6 m/s","g":"0.55 G","x":46,"y":1.3},{"m":"P","v":"1.6 m/s","g":"0.55 G","x":48.5,"y":1.95},{"m":"P","v":"1.6 m/s","g":"0.55 G","x":50.5,"y":2.26},{"m":"P","v":"1.6 m/s","g":"0.55 G","x":52.5,"y":1.9},{"m":"P","v":"1.6 m/s","g":"0.55 G","x":54.5,"y":1},{"m":"P","v":"1.6 m/s","g":"0.55 G","x":56,"y":0.35},{"m":"P","v":"1.6 m/s","g":"0.55 G","x":57.5,"y":0.05},{"m":"P","v":"1.6 m/s","g":"0.55 G","x":59,"y":0},{"m":"P","v":"1.6 m/s","g":"0.55 G","x":100,"y":0},
{"m":"P","v":"1.6 m/s","g":"0.31 G","x":0,"y":0},{"m":"P","v":"1.6 m/s","g":"0.31 G","x":3,"y":-0.12},{"m":"P","v":"1.6 m/s","g":"0.31 G","x":6,"y":-0.35},{"m":"P","v":"1.6 m/s","g":"0.31 G","x":8,"y":-0.15},{"m":"P","v":"1.6 m/s","g":"0.31 G","x":10,"y":0.05},{"m":"P","v":"1.6 m/s","g":"0.31 G","x":12,"y":0.12},{"m":"P","v":"1.6 m/s","g":"0.31 G","x":14,"y":0.05},{"m":"P","v":"1.6 m/s","g":"0.31 G","x":17,"y":-0.05},{"m":"P","v":"1.6 m/s","g":"0.31 G","x":21,"y":-0.1},{"m":"P","v":"1.6 m/s","g":"0.31 G","x":26,"y":-0.08},{"m":"P","v":"1.6 m/s","g":"0.31 G","x":31,"y":0.02},{"m":"P","v":"1.6 m/s","g":"0.31 G","x":35,"y":0.2},{"m":"P","v":"1.6 m/s","g":"0.31 G","x":39,"y":0.5},{"m":"P","v":"1.6 m/s","g":"0.31 G","x":42,"y":0.8},{"m":"P","v":"1.6 m/s","g":"0.31 G","x":45,"y":1},{"m":"P","v":"1.6 m/s","g":"0.31 G","x":47,"y":1},{"m":"P","v":"1.6 m/s","g":"0.31 G","x":49,"y":0.75},{"m":"P","v":"1.6 m/s","g":"0.31 G","x":51,"y":0.4},{"m":"P","v":"1.6 m/s","g":"0.31 G","x":53,"y":0.12},{"m":"P","v":"1.6 m/s","g":"0.31 G","x":55,"y":0.02},{"m":"P","v":"1.6 m/s","g":"0.31 G","x":57,"y":0},{"m":"P","v":"1.6 m/s","g":"0.31 G","x":100,"y":0}
]},
"vconcat":[
{"data":{"name":"d"},"transform":[{"filter":"datum.m=='A' || datum.m=='T'"}],
 "bounds":"flush",
 "facet":{"column":{"field":"v","type":"ordinal","sort":["0.4 m/s","0.8 m/s","1.2 m/s","1.6 m/s"],"header":{"title":null,"labelFontSize":14,"labelFontWeight":"bold","labelFont":"Lato","labelColor":"#000","labelPadding":3}}},
 "spacing":23,
 "spec":{"width":132,"height":119,"layer":[
  {"transform":[{"filter":"datum.m=='T'"}],"mark":{"type":"rule","color":"#a8a8a8","strokeWidth":1},"encoding":{"x":{"field":"x","type":"quantitative","scale":{"domain":[0,100],"nice":false},"axis":{"values":[0,50,100],"labels":false,"title":null,"tickSize":-3}},"strokeDash":{"field":"g","type":"nominal","scale":{"domain":["1 G","0.76 G","0.55 G","0.31 G"],"range":[[1,0],[10,4,4,4],[10,5],[2,3]]}}}},
  {"transform":[{"filter":"datum.m=='T' && datum.g=='1 G'"}],"mark":{"type":"rule","color":"#8c8c8c","strokeWidth":1},"encoding":{"y":{"datum":0}}},
  {"transform":[{"filter":"datum.m=='T' && datum.g=='1 G'"}],"mark":{"type":"rule","color":"#8c8c8c","strokeWidth":1},"encoding":{"x":{"datum":0}}},
  {"transform":[{"filter":"datum.m=='A'"}],"mark":{"type":"line","strokeWidth":2.6,"interpolate":"monotone"},
   "encoding":{"x":{"field":"x","type":"quantitative"},
    "y":{"field":"y","type":"quantitative","scale":{"domain":[-15,30],"nice":false,"zero":false},"axis":{"values":[-15,0,15,30],"labelExpr":"'' + datum.value","labelOverlap":false,"title":["Angle","(°)"],"titleAngle":0,"titleAlign":"left","titleBaseline":"middle","titleX":-83,"titleY":47,"titleLineHeight":21,"tickSize":-3}},
    "color":{"field":"g","type":"nominal","scale":{"domain":["1 G","0.76 G","0.55 G","0.31 G"],"range":["#e3302f","#3a84c4","#5bb450","#a45cbf"]},"legend":{"title":"Ankle","titleOrient":"left","titlePadding":90,"titleFontSize":15,"titleFont":"Lato","titleFontWeight":"bold","titleColor":"#000","orient":"none","direction":"horizontal","legendX":-83,"legendY":-46,"symbolType":"M-1,0H14","symbolSize":64,"symbolStrokeWidth":3,"labelFontSize":14,"labelFont":"Lato","labelFontWeight":"bold","labelColor":"#000","columnPadding":18,"labelOffset":54}},
    "strokeDash":{"field":"g","type":"nominal","legend":{"title":"Ankle","titleOrient":"left","titlePadding":90,"titleFontSize":15,"titleFont":"Lato","titleFontWeight":"bold","titleColor":"#000","orient":"none","direction":"horizontal","legendX":-83,"legendY":-46,"symbolType":"M-1,0H14","symbolSize":64,"symbolStrokeWidth":3,"labelFontSize":14,"labelFont":"Lato","labelFontWeight":"bold","labelColor":"#000","columnPadding":18,"labelOffset":54}}}}
 ]}},
{"data":{"name":"d"},"transform":[{"filter":"datum.m=='M' || datum.m=='T'"}],
 "bounds":"flush",
 "facet":{"column":{"field":"v","type":"ordinal","sort":["0.4 m/s","0.8 m/s","1.2 m/s","1.6 m/s"],"header":{"title":null,"labels":false}}},
 "spacing":23,
 "spec":{"width":132,"height":120,"layer":[
  {"transform":[{"filter":"datum.m=='T'"}],"mark":{"type":"rule","color":"#a8a8a8","strokeWidth":1},"encoding":{"x":{"field":"x","type":"quantitative","scale":{"domain":[0,100],"nice":false},"axis":{"values":[0,50,100],"labels":false,"title":" ","titleFontSize":6,"titlePadding":0,"tickSize":-3}},"strokeDash":{"field":"g","type":"nominal"}}},
  {"transform":[{"filter":"datum.m=='T' && datum.g=='1 G'"}],"mark":{"type":"rule","color":"#8c8c8c","strokeWidth":1},"encoding":{"y":{"datum":0}}},
  {"transform":[{"filter":"datum.m=='T' && datum.g=='1 G'"}],"mark":{"type":"rule","color":"#8c8c8c","strokeWidth":1},"encoding":{"x":{"datum":0}}},
  {"transform":[{"filter":"datum.m=='M'"}],"mark":{"type":"line","strokeWidth":2.6,"interpolate":"monotone"},
   "encoding":{"x":{"field":"x","type":"quantitative"},
    "y":{"field":"y","type":"quantitative","scale":{"domain":[-0.33,1.78],"nice":false,"zero":false},"axis":{"values":[0,0.75,1.5],"labelExpr":"'' + datum.value","labelOverlap":false,"title":["Moment","(Nm/kg)"],"titleAngle":0,"titleAlign":"left","titleBaseline":"middle","titleX":-83,"titleY":28,"titleLineHeight":27,"tickSize":-3}},
    "color":{"field":"g","type":"nominal","legend":{"title":"Ankle","titleOrient":"left","titlePadding":90,"titleFontSize":15,"titleFont":"Lato","titleFontWeight":"bold","titleColor":"#000","orient":"none","direction":"horizontal","legendX":-83,"legendY":-46,"symbolType":"M-1,0H14","symbolSize":64,"symbolStrokeWidth":3,"labelFontSize":14,"labelFont":"Lato","labelFontWeight":"bold","labelColor":"#000","columnPadding":18,"labelOffset":54}},
    "strokeDash":{"field":"g","type":"nominal","legend":{"title":"Ankle","titleOrient":"left","titlePadding":90,"titleFontSize":15,"titleFont":"Lato","titleFontWeight":"bold","titleColor":"#000","orient":"none","direction":"horizontal","legendX":-83,"legendY":-46,"symbolType":"M-1,0H14","symbolSize":64,"symbolStrokeWidth":3,"labelFontSize":14,"labelFont":"Lato","labelFontWeight":"bold","labelColor":"#000","columnPadding":18,"labelOffset":54}}}}
 ]}},
{"data":{"name":"d"},"transform":[{"filter":"datum.m=='P' || datum.m=='T'"}],
 "bounds":"flush",
 "title":{"text":"Gait cycle (%)","orient":"bottom","anchor":"middle","frame":"bounds","fontSize":14,"font":"Lato","fontWeight":"bold","color":"#000","offset":3,"dx":52},
 "facet":{"column":{"field":"v","type":"ordinal","sort":["0.4 m/s","0.8 m/s","1.2 m/s","1.6 m/s"],"header":{"title":null,"labels":false}}},
 "spacing":23,
 "spec":{"width":132,"height":119,"layer":[
  {"transform":[{"filter":"datum.m=='T'"}],"mark":{"type":"rule","color":"#a8a8a8","strokeWidth":1},"encoding":{"x":{"field":"x","type":"quantitative","scale":{"domain":[0,100],"nice":false},"axis":{"values":[0,50,100],"title":null,"tickSize":-3,"labelPadding":9,"labelFlush":false,"labelOverlap":false}},"strokeDash":{"field":"g","type":"nominal"}}},
  {"transform":[{"filter":"datum.m=='T' && datum.g=='1 G'"}],"mark":{"type":"rule","color":"#8c8c8c","strokeWidth":1},"encoding":{"y":{"datum":0}}},
  {"transform":[{"filter":"datum.m=='T' && datum.g=='1 G'"}],"mark":{"type":"rule","color":"#8c8c8c","strokeWidth":1},"encoding":{"x":{"datum":0}}},
  {"transform":[{"filter":"datum.m=='P'"}],"mark":{"type":"line","strokeWidth":2.6,"interpolate":"monotone"},
   "encoding":{"x":{"field":"x","type":"quantitative"},
    "y":{"field":"y","type":"quantitative","scale":{"domain":[-1,4.46],"nice":false,"zero":false},"axis":{"values":[0,2,4],"labelExpr":"'' + datum.value","labelOverlap":false,"title":["Power","(W/kg)"],"titleAngle":0,"titleAlign":"left","titleBaseline":"middle","titleX":-83,"titleY":43,"titleLineHeight":23,"tickSize":-3}},
    "color":{"field":"g","type":"nominal","legend":{"title":"Ankle","titleOrient":"left","titlePadding":90,"titleFontSize":15,"titleFont":"Lato","titleFontWeight":"bold","titleColor":"#000","orient":"none","direction":"horizontal","legendX":-83,"legendY":-46,"symbolType":"M-1,0H14","symbolSize":64,"symbolStrokeWidth":3,"labelFontSize":14,"labelFont":"Lato","labelFontWeight":"bold","labelColor":"#000","columnPadding":18,"labelOffset":54}},
    "strokeDash":{"field":"g","type":"nominal","legend":{"title":"Ankle","titleOrient":"left","titlePadding":90,"titleFontSize":15,"titleFont":"Lato","titleFontWeight":"bold","titleColor":"#000","orient":"none","direction":"horizontal","legendX":-83,"legendY":-46,"symbolType":"M-1,0H14","symbolSize":64,"symbolStrokeWidth":3,"labelFontSize":14,"labelFont":"Lato","labelFontWeight":"bold","labelColor":"#000","columnPadding":18,"labelOffset":54}}}}
 ]}}
],
"spacing":4,
"resolve":{"scale":{"y":"independent","color":"shared","strokeDash":"shared"}},
"config":{
 "view":{"stroke":null},
 "font":"Lato",
 "axis":{"domainColor":"#8c8c8c","tickColor":"#8c8c8c","labelColor":"#000","labelFont":"Lato","labelFontSize":13,"labelFontWeight":"bold","grid":false,"titleFont":"Lato","titleFontSize":14,"titleFontWeight":"bold","titleColor":"#000"}
}
}
